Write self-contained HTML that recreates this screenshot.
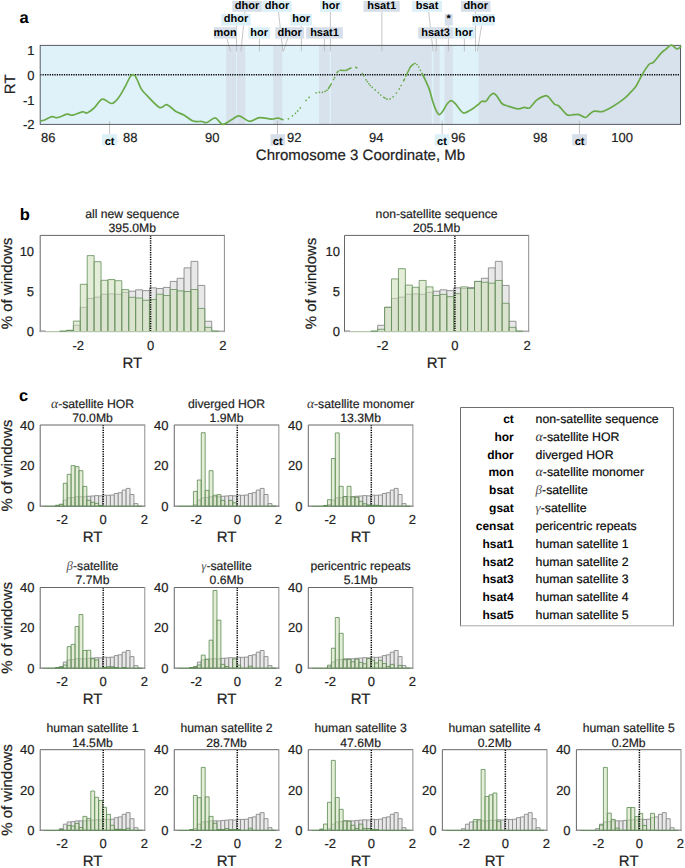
<!DOCTYPE html><html><head><meta charset="utf-8"><style>html,body{margin:0;padding:0;background:#fff;}svg{display:block;text-rendering:geometricPrecision;} text{stroke:#222;stroke-width:0.2px;} text[font-weight=bold]{stroke:none;}</style></head><body>
<svg width="685" height="868" viewBox="0 0 685 868" style="font-family:&quot;Liberation Sans&quot;,sans-serif">
<rect width="685" height="868" fill="#fff"/>
<rect x="40.2" y="45.4" width="640.3" height="79.0" fill="#dff2fa"/>
<rect x="226.1" y="45.4" width="9.90" height="79.0" fill="#d8e2ec"/>
<rect x="236.9" y="45.4" width="8.30" height="79.0" fill="#d8e2ec"/>
<rect x="273.2" y="45.4" width="9.00" height="79.0" fill="#d8e2ec"/>
<rect x="319.0" y="45.4" width="10.60" height="79.0" fill="#d8e2ec"/>
<rect x="331.0" y="45.4" width="100.80" height="79.0" fill="#d8e2ec"/>
<rect x="433.5" y="45.4" width="6.20" height="79.0" fill="#d8e2ec"/>
<rect x="444.5" y="45.4" width="8.30" height="79.0" fill="#d8e2ec"/>
<rect x="478.7" y="45.4" width="201.80" height="79.0" fill="#d8e2ec"/>
<line x1="226.9" y1="38.6" x2="230.6" y2="51.4" stroke="#b8b8b8" stroke-width="0.8"/>
<line x1="236.5" y1="25.6" x2="236.5" y2="51.4" stroke="#b8b8b8" stroke-width="0.8"/>
<line x1="244.9" y1="11.8" x2="240.9" y2="51.4" stroke="#b8b8b8" stroke-width="0.8"/>
<line x1="259.4" y1="38.6" x2="259.4" y2="51.4" stroke="#b8b8b8" stroke-width="0.8"/>
<line x1="278.5" y1="11.8" x2="282.9" y2="51.4" stroke="#b8b8b8" stroke-width="0.8"/>
<line x1="287.7" y1="38.6" x2="283.3" y2="51.4" stroke="#b8b8b8" stroke-width="0.8"/>
<line x1="301.4" y1="25.6" x2="301.4" y2="51.4" stroke="#b8b8b8" stroke-width="0.8"/>
<line x1="324.4" y1="38.6" x2="324.4" y2="51.4" stroke="#b8b8b8" stroke-width="0.8"/>
<line x1="330.4" y1="11.8" x2="330.4" y2="51.4" stroke="#b8b8b8" stroke-width="0.8"/>
<line x1="381.9" y1="11.8" x2="381.9" y2="51.4" stroke="#b8b8b8" stroke-width="0.8"/>
<line x1="428.7" y1="11.8" x2="433.1" y2="51.4" stroke="#b8b8b8" stroke-width="0.8"/>
<line x1="436.3" y1="38.6" x2="436.3" y2="51.4" stroke="#b8b8b8" stroke-width="0.8"/>
<line x1="448.4" y1="25.6" x2="448.4" y2="51.4" stroke="#b8b8b8" stroke-width="0.8"/>
<line x1="464.4" y1="38.6" x2="464.4" y2="51.4" stroke="#b8b8b8" stroke-width="0.8"/>
<line x1="475.5" y1="11.8" x2="475.5" y2="51.4" stroke="#b8b8b8" stroke-width="0.8"/>
<line x1="481.6" y1="25.6" x2="477.4" y2="51.4" stroke="#b8b8b8" stroke-width="0.8"/>
<line x1="109.6" y1="121.0" x2="109.6" y2="134.2" stroke="#b8b8b8" stroke-width="0.8"/>
<line x1="277.5" y1="120.6" x2="277.5" y2="134.2" stroke="#b8b8b8" stroke-width="0.8"/>
<line x1="442.1" y1="120.6" x2="442.1" y2="134.2" stroke="#b8b8b8" stroke-width="0.8"/>
<line x1="579.4" y1="120.6" x2="579.4" y2="134.2" stroke="#b8b8b8" stroke-width="0.8"/>
<line x1="40.2" y1="74.7" x2="680.5" y2="74.7" stroke="#000" stroke-width="1.5" stroke-dasharray="1.25 1.12"/>
<rect x="40.2" y="45.4" width="640.30" height="79.00" fill="none" stroke="#575c63" stroke-width="1"/>
<path d="M40.20,121.00 C40.93,120.83 42.65,120.73 44.60,120.00 C46.55,119.27 49.83,116.98 51.90,116.60 C53.97,116.22 54.45,118.10 57.00,117.70 C59.55,117.30 64.65,114.62 67.20,114.20 C69.75,113.78 69.73,115.60 72.30,115.20 C74.87,114.80 80.17,112.17 82.60,111.80 C85.03,111.43 84.97,113.65 86.90,113.00 C88.83,112.35 91.63,110.22 94.20,107.90 C96.77,105.58 99.37,99.83 102.30,99.10 C105.23,98.37 109.02,103.85 111.80,103.50 C114.58,103.15 116.67,100.03 119.00,97.00 C121.33,93.97 124.03,88.53 125.80,85.30 C127.57,82.07 128.63,79.30 129.60,77.60 C130.57,75.90 130.97,75.58 131.60,75.10 C132.23,74.62 132.80,74.55 133.40,74.70 C134.00,74.85 134.52,75.03 135.20,76.00 C135.88,76.97 136.50,78.35 137.50,80.50 C138.50,82.65 139.87,86.65 141.20,88.90 C142.53,91.15 142.47,90.92 145.50,94.00 C148.53,97.08 155.87,105.62 159.40,107.40 C162.93,109.18 164.02,104.07 166.70,104.70 C169.38,105.33 172.58,109.45 175.50,111.20 C178.42,112.95 181.28,113.57 184.20,115.20 C187.12,116.83 190.07,119.95 193.00,121.00 C195.93,122.05 199.48,121.25 201.80,121.50 C204.12,121.75 204.72,123.12 206.90,122.50 C209.08,121.88 212.72,117.80 214.90,117.80 C217.08,117.80 218.50,121.43 220.00,122.50 C221.50,123.57 221.92,124.68 223.90,124.20 C225.88,123.72 229.35,120.98 231.90,119.60 C234.45,118.22 236.28,115.62 239.20,115.90 C242.12,116.18 246.00,121.00 249.40,121.30 C252.80,121.60 255.95,118.07 259.60,117.70 C263.25,117.33 268.25,119.03 271.30,119.10 C274.35,119.17 275.87,117.97 277.90,118.10 C279.93,118.23 282.57,119.60 283.50,119.90" fill="none" stroke="#6aaa48" stroke-width="1.7" stroke-linejoin="round"/>
<path d="M421.70,72.90 C422.25,73.98 423.72,76.62 425.00,79.40 C426.28,82.18 428.18,86.18 429.40,89.60 C430.62,93.02 431.32,96.73 432.30,99.90 C433.28,103.07 434.20,106.17 435.30,108.60 C436.40,111.03 437.68,114.02 438.90,114.50 C440.12,114.98 441.27,113.22 442.60,111.50 C443.93,109.78 445.45,106.02 446.90,104.20 C448.35,102.38 449.83,100.60 451.30,100.60 C452.77,100.60 454.00,102.38 455.70,104.20 C457.40,106.02 460.03,110.03 461.50,111.50 C462.97,112.97 462.78,113.37 464.50,113.00 C466.22,112.63 469.62,110.63 471.80,109.30 C473.98,107.97 475.90,106.33 477.60,105.00 C479.30,103.67 480.63,101.92 482.00,101.30 C483.37,100.68 484.43,102.27 485.80,101.30 C487.17,100.33 488.85,96.83 490.20,95.50 C491.55,94.17 492.68,93.07 493.90,93.30 C495.12,93.53 496.17,95.20 497.50,96.90 C498.83,98.60 500.20,101.98 501.90,103.50 C503.60,105.02 505.02,105.10 507.70,106.00 C510.38,106.90 515.20,108.67 518.00,108.90 C520.80,109.13 522.57,107.57 524.50,107.40 C526.43,107.23 527.53,109.15 529.60,107.90 C531.67,106.65 534.33,101.92 536.90,99.90 C539.47,97.88 543.05,96.25 545.00,95.80 C546.95,95.35 547.02,95.80 548.60,97.20 C550.18,98.60 552.80,102.73 554.50,104.20 C556.20,105.67 556.73,104.25 558.80,106.00 C560.87,107.75 564.47,113.25 566.90,114.70 C569.33,116.15 571.38,114.72 573.40,114.70 C575.42,114.68 577.00,114.13 579.00,114.60 C581.00,115.07 583.65,117.55 585.40,117.50 C587.15,117.45 588.02,115.37 589.50,114.30 C590.98,113.23 592.17,111.55 594.30,111.10 C596.43,110.65 599.37,112.27 602.30,111.60 C605.23,110.93 608.42,109.13 611.90,107.10 C615.38,105.07 620.25,101.68 623.20,99.40 C626.15,97.12 627.47,95.60 629.60,93.40 C631.73,91.20 633.87,89.40 636.00,86.20 C638.13,83.00 640.25,77.82 642.40,74.20 C644.55,70.58 647.02,66.52 648.90,64.50 C650.78,62.48 651.70,63.97 653.70,62.10 C655.70,60.23 658.90,55.43 660.90,53.30 C662.90,51.17 663.95,50.65 665.70,49.30 C667.45,47.95 669.52,45.25 671.40,45.20 C673.28,45.15 675.35,48.83 677.00,49.00 C678.65,49.17 680.58,46.67 681.30,46.20" fill="none" stroke="#6aaa48" stroke-width="1.7" stroke-linejoin="round"/>
<circle cx="288.4" cy="118.8" r="0.85" fill="#6aaa48"/>
<circle cx="292.5" cy="115.8" r="0.85" fill="#6aaa48"/>
<circle cx="295.5" cy="113.3" r="0.85" fill="#6aaa48"/>
<circle cx="297.7" cy="110.9" r="0.85" fill="#6aaa48"/>
<circle cx="300.3" cy="107.9" r="0.85" fill="#6aaa48"/>
<circle cx="306" cy="100.4" r="0.85" fill="#6aaa48"/>
<circle cx="309.1" cy="97.4" r="0.85" fill="#6aaa48"/>
<circle cx="316.1" cy="92.8" r="0.85" fill="#6aaa48"/>
<circle cx="319.4" cy="92.3" r="0.85" fill="#6aaa48"/>
<circle cx="322.4" cy="92.3" r="0.85" fill="#6aaa48"/>
<circle cx="325" cy="91.4" r="0.85" fill="#6aaa48"/>
<circle cx="326.9" cy="90.3" r="0.85" fill="#6aaa48"/>
<circle cx="333.5" cy="79.5" r="0.85" fill="#6aaa48"/>
<circle cx="334.6" cy="77.6" r="0.85" fill="#6aaa48"/>
<circle cx="337.1" cy="72.4" r="0.85" fill="#6aaa48"/>
<circle cx="338.2" cy="71.4" r="0.85" fill="#6aaa48"/>
<circle cx="355.7" cy="67.3" r="0.85" fill="#6aaa48"/>
<circle cx="356.8" cy="67.8" r="0.85" fill="#6aaa48"/>
<circle cx="362.3" cy="73.6" r="0.85" fill="#6aaa48"/>
<circle cx="363.8" cy="75.8" r="0.85" fill="#6aaa48"/>
<circle cx="366" cy="79.8" r="0.85" fill="#6aaa48"/>
<circle cx="367.4" cy="81.6" r="0.85" fill="#6aaa48"/>
<circle cx="368.9" cy="83.8" r="0.85" fill="#6aaa48"/>
<circle cx="370.3" cy="85.5" r="0.85" fill="#6aaa48"/>
<circle cx="372.2" cy="87.3" r="0.85" fill="#6aaa48"/>
<circle cx="375.2" cy="89.9" r="0.85" fill="#6aaa48"/>
<circle cx="378.3" cy="92.6" r="0.85" fill="#6aaa48"/>
<circle cx="380.7" cy="95" r="0.85" fill="#6aaa48"/>
<circle cx="387" cy="99.2" r="0.85" fill="#6aaa48"/>
<circle cx="390" cy="98.9" r="0.85" fill="#6aaa48"/>
<circle cx="393.1" cy="96.8" r="0.85" fill="#6aaa48"/>
<circle cx="396.4" cy="93.1" r="0.85" fill="#6aaa48"/>
<circle cx="399.3" cy="88.9" r="0.85" fill="#6aaa48"/>
<circle cx="401.1" cy="85.5" r="0.85" fill="#6aaa48"/>
<circle cx="417" cy="64.5" r="0.85" fill="#6aaa48"/>
<circle cx="418.8" cy="67" r="0.85" fill="#6aaa48"/>
<circle cx="420.4" cy="70.3" r="0.85" fill="#6aaa48"/>
<path d="M328.40,88.60 C328.63,88.23 329.32,87.20 329.80,86.40 C330.28,85.60 331.05,84.23 331.30,83.80" fill="none" stroke="#6aaa48" stroke-width="1.5" stroke-linecap="round"/>
<path d="M340.00,70.30 C340.50,70.32 341.90,70.40 343.00,70.40 C344.10,70.40 345.70,70.50 346.60,70.30 C347.50,70.10 347.67,69.58 348.40,69.20 C349.13,68.82 350.57,68.20 351.00,68.00" fill="none" stroke="#6aaa48" stroke-width="1.5" stroke-linecap="round"/>
<path d="M383.60,97.30 C383.87,97.43 384.93,97.97 385.20,98.10" fill="none" stroke="#6aaa48" stroke-width="1.5" stroke-linecap="round"/>
<path d="M403.50,80.90 C403.68,80.60 404.42,79.40 404.60,79.10" fill="none" stroke="#6aaa48" stroke-width="1.5" stroke-linecap="round"/>
<path d="M405.70,76.20 C406.00,75.62 406.90,73.87 407.50,72.70 C408.10,71.53 408.82,70.15 409.30,69.20 C409.78,68.25 409.87,67.73 410.40,67.00 C410.93,66.27 411.72,65.40 412.50,64.80 C413.28,64.20 414.67,63.63 415.10,63.40" fill="none" stroke="#6aaa48" stroke-width="1.5" stroke-linecap="round"/>
<rect x="232.3" y="0.9" width="29.60" height="10.90" fill="#d6dfe9"/>
<text x="247.10" y="9.20" font-size="11" text-anchor="middle" font-weight="bold" fill="#000" >dhor</text>
<rect x="262.3" y="0.9" width="29.40" height="10.90" fill="#dcf0f9"/>
<text x="277.00" y="9.20" font-size="11" text-anchor="middle" font-weight="bold" fill="#000" >dhor</text>
<rect x="320.0" y="0.9" width="21.80" height="10.90" fill="#dcf0f9"/>
<text x="330.90" y="9.20" font-size="11" text-anchor="middle" font-weight="bold" fill="#000" >hor</text>
<rect x="363.5" y="0.9" width="36.30" height="10.90" fill="#d6dfe9"/>
<text x="381.65" y="9.20" font-size="11" text-anchor="middle" font-weight="bold" fill="#000" >hsat1</text>
<rect x="412.1" y="0.9" width="29.80" height="10.90" fill="#dcf0f9"/>
<text x="427.00" y="9.20" font-size="11" text-anchor="middle" font-weight="bold" fill="#000" >bsat</text>
<rect x="461.0" y="0.9" width="29.50" height="10.90" fill="#d6dfe9"/>
<text x="475.75" y="9.20" font-size="11" text-anchor="middle" font-weight="bold" fill="#000" >dhor</text>
<rect x="221.2" y="14.0" width="29.50" height="11.60" fill="#dcf0f9"/>
<text x="235.95" y="22.40" font-size="11" text-anchor="middle" font-weight="bold" fill="#000" >dhor</text>
<rect x="290.4" y="14.0" width="21.60" height="11.60" fill="#dcf0f9"/>
<text x="301.20" y="22.40" font-size="11" text-anchor="middle" font-weight="bold" fill="#000" >hor</text>
<rect x="444.7" y="14.0" width="8.10" height="11.60" fill="#d6dfe9"/>
<text x="448.75" y="22.40" font-size="11" text-anchor="middle" font-weight="bold" fill="#000" >*</text>
<rect x="472.2" y="14.0" width="22.70" height="11.60" fill="#dcf0f9"/>
<text x="483.55" y="22.40" font-size="11" text-anchor="middle" font-weight="bold" fill="#000" >mon</text>
<rect x="213.9" y="27.2" width="22.60" height="11.40" fill="#d6dfe9"/>
<text x="225.20" y="35.60" font-size="11" text-anchor="middle" font-weight="bold" fill="#000" >mon</text>
<rect x="248.3" y="27.2" width="21.70" height="11.40" fill="#dcf0f9"/>
<text x="259.15" y="35.60" font-size="11" text-anchor="middle" font-weight="bold" fill="#000" >hor</text>
<rect x="275.2" y="27.2" width="28.90" height="11.40" fill="#d6dfe9"/>
<text x="289.65" y="35.60" font-size="11" text-anchor="middle" font-weight="bold" fill="#000" >dhor</text>
<rect x="306.2" y="27.2" width="36.60" height="11.40" fill="#d6dfe9"/>
<text x="324.50" y="35.60" font-size="11" text-anchor="middle" font-weight="bold" fill="#000" >hsat1</text>
<rect x="418.2" y="27.2" width="34.80" height="11.40" fill="#d6dfe9"/>
<text x="435.60" y="35.60" font-size="11" text-anchor="middle" font-weight="bold" fill="#000" >hsat3</text>
<rect x="453.1" y="27.2" width="21.70" height="11.40" fill="#dcf0f9"/>
<text x="463.95" y="35.60" font-size="11" text-anchor="middle" font-weight="bold" fill="#000" >hor</text>
<rect x="101.9" y="134.2" width="15.40" height="11.4" fill="#dcf0f9"/>
<text x="109.60" y="144.90" font-size="11" text-anchor="middle" font-weight="bold" fill="#000" >ct</text>
<rect x="270.5" y="134.2" width="14.50" height="11.4" fill="#d6dfe9"/>
<text x="277.75" y="144.90" font-size="11" text-anchor="middle" font-weight="bold" fill="#000" >ct</text>
<rect x="434.7" y="134.2" width="14.60" height="11.4" fill="#dcf0f9"/>
<text x="442.00" y="144.90" font-size="11" text-anchor="middle" font-weight="bold" fill="#000" >ct</text>
<rect x="572.1" y="134.2" width="14.90" height="11.4" fill="#d6dfe9"/>
<text x="579.55" y="144.90" font-size="11" text-anchor="middle" font-weight="bold" fill="#000" >ct</text>
<text x="34.60" y="54.70" font-size="13" text-anchor="end" fill="#222" >1</text>
<text x="34.60" y="79.90" font-size="13" text-anchor="end" fill="#222" >0</text>
<text x="34.60" y="105.00" font-size="13" text-anchor="end" fill="#222" >-1</text>
<text x="34.60" y="129.30" font-size="13" text-anchor="end" fill="#222" >-2</text>
<text x="48.20" y="142.30" font-size="13" text-anchor="middle" fill="#222" >86</text>
<text x="130.20" y="142.30" font-size="13" text-anchor="middle" fill="#222" >88</text>
<text x="212.20" y="142.30" font-size="13" text-anchor="middle" fill="#222" >90</text>
<text x="294.20" y="142.30" font-size="13" text-anchor="middle" fill="#222" >92</text>
<text x="376.20" y="142.30" font-size="13" text-anchor="middle" fill="#222" >94</text>
<text x="458.20" y="142.30" font-size="13" text-anchor="middle" fill="#222" >96</text>
<text x="540.20" y="142.30" font-size="13" text-anchor="middle" fill="#222" >98</text>
<text x="622.20" y="142.30" font-size="13" text-anchor="middle" fill="#222" >100</text>
<text x="360.50" y="159.60" font-size="15" text-anchor="middle" fill="#222" >Chromosome 3 Coordinate, Mb</text>
<text x="0" y="0" font-size="15" text-anchor="middle" fill="#222" transform="translate(15.2,84.3) rotate(-90)">RT</text>
<text x="19.60" y="23.00" font-size="16.5" text-anchor="start" font-weight="bold" fill="#000" >a</text>
<g>
<rect x="40.20" y="330.96" width="5.54" height="0.64" fill="#e8e8e8" fill-opacity="1"/>
<path d="M40.20,331.60V330.96H45.74V331.60" fill="none" stroke="#8a8a8a" stroke-width="0.9"/>
<rect x="73.40" y="325.27" width="6.92" height="6.33" fill="#e8e8e8" fill-opacity="1"/>
<path d="M73.40,331.60V325.27H80.32V331.60" fill="none" stroke="#8a8a8a" stroke-width="0.9"/>
<rect x="80.32" y="307.31" width="6.92" height="24.29" fill="#e8e8e8" fill-opacity="1"/>
<path d="M80.32,331.60V307.31H87.23V331.60" fill="none" stroke="#8a8a8a" stroke-width="0.9"/>
<rect x="87.23" y="298.41" width="6.92" height="33.19" fill="#e8e8e8" fill-opacity="1"/>
<path d="M87.23,331.60V298.41H94.15V331.60" fill="none" stroke="#8a8a8a" stroke-width="0.9"/>
<rect x="94.15" y="297.13" width="6.92" height="34.47" fill="#e8e8e8" fill-opacity="1"/>
<path d="M94.15,331.60V297.13H101.06V331.60" fill="none" stroke="#8a8a8a" stroke-width="0.9"/>
<rect x="101.06" y="294.24" width="6.92" height="37.36" fill="#e8e8e8" fill-opacity="1"/>
<path d="M101.06,331.60V294.24H107.98V331.60" fill="none" stroke="#8a8a8a" stroke-width="0.9"/>
<rect x="107.98" y="293.92" width="6.92" height="37.68" fill="#e8e8e8" fill-opacity="1"/>
<path d="M107.98,331.60V293.92H114.89V331.60" fill="none" stroke="#8a8a8a" stroke-width="0.9"/>
<rect x="114.89" y="294.24" width="6.92" height="37.36" fill="#e8e8e8" fill-opacity="1"/>
<path d="M114.89,331.60V294.24H121.81V331.60" fill="none" stroke="#8a8a8a" stroke-width="0.9"/>
<rect x="121.81" y="292.32" width="6.92" height="39.28" fill="#e8e8e8" fill-opacity="1"/>
<path d="M121.81,331.60V292.32H128.73V331.60" fill="none" stroke="#8a8a8a" stroke-width="0.9"/>
<rect x="128.73" y="291.20" width="6.92" height="40.40" fill="#e8e8e8" fill-opacity="1"/>
<path d="M128.73,331.60V291.20H135.64V331.60" fill="none" stroke="#8a8a8a" stroke-width="0.9"/>
<rect x="135.64" y="289.83" width="6.92" height="41.77" fill="#e8e8e8" fill-opacity="1"/>
<path d="M135.64,331.60V289.83H142.56V331.60" fill="none" stroke="#8a8a8a" stroke-width="0.9"/>
<rect x="142.56" y="290.63" width="6.92" height="40.97" fill="#e8e8e8" fill-opacity="1"/>
<path d="M142.56,331.60V290.63H149.47V331.60" fill="none" stroke="#8a8a8a" stroke-width="0.9"/>
<rect x="149.47" y="287.83" width="6.92" height="43.77" fill="#e8e8e8" fill-opacity="1"/>
<path d="M149.47,331.60V287.83H156.39V331.60" fill="none" stroke="#8a8a8a" stroke-width="0.9"/>
<rect x="156.39" y="288.47" width="6.92" height="43.13" fill="#e8e8e8" fill-opacity="1"/>
<path d="M156.39,331.60V288.47H163.30V331.60" fill="none" stroke="#8a8a8a" stroke-width="0.9"/>
<rect x="163.30" y="287.43" width="6.92" height="44.17" fill="#e8e8e8" fill-opacity="1"/>
<path d="M163.30,331.60V287.43H170.22V331.60" fill="none" stroke="#8a8a8a" stroke-width="0.9"/>
<rect x="170.22" y="281.42" width="6.92" height="50.18" fill="#e8e8e8" fill-opacity="1"/>
<path d="M170.22,331.60V281.42H177.13V331.60" fill="none" stroke="#8a8a8a" stroke-width="0.9"/>
<rect x="177.13" y="278.29" width="6.92" height="53.31" fill="#e8e8e8" fill-opacity="1"/>
<path d="M177.13,331.60V278.29H184.05V331.60" fill="none" stroke="#8a8a8a" stroke-width="0.9"/>
<rect x="184.05" y="267.87" width="6.92" height="63.73" fill="#e8e8e8" fill-opacity="1"/>
<path d="M184.05,331.60V267.87H190.97V331.60" fill="none" stroke="#8a8a8a" stroke-width="0.9"/>
<rect x="190.97" y="261.37" width="6.92" height="70.23" fill="#e8e8e8" fill-opacity="1"/>
<path d="M190.97,331.60V261.37H197.88V331.60" fill="none" stroke="#8a8a8a" stroke-width="0.9"/>
<rect x="197.88" y="285.42" width="6.92" height="46.18" fill="#e8e8e8" fill-opacity="1"/>
<path d="M197.88,331.60V285.42H204.80V331.60" fill="none" stroke="#8a8a8a" stroke-width="0.9"/>
<rect x="204.80" y="321.26" width="6.92" height="10.34" fill="#e8e8e8" fill-opacity="1"/>
<path d="M204.80,331.60V321.26H211.71V331.60" fill="none" stroke="#8a8a8a" stroke-width="0.9"/>
<rect x="211.71" y="331.36" width="6.92" height="0.24" fill="#e8e8e8" fill-opacity="1"/>
<path d="M211.71,331.60V331.36H218.63V331.60" fill="none" stroke="#8a8a8a" stroke-width="0.9"/>
<rect x="218.63" y="331.12" width="5.77" height="0.48" fill="#e8e8e8" fill-opacity="1"/>
<path d="M218.63,331.60V331.12H224.40V331.60" fill="none" stroke="#8a8a8a" stroke-width="0.9"/>
<rect x="59.57" y="331.20" width="6.92" height="0.40" fill="#cedeb6" fill-opacity="0.55"/>
<path d="M59.57,331.60V331.20H66.49V331.60" fill="none" stroke="#638f5b" stroke-width="0.8"/>
<rect x="66.49" y="330.40" width="6.92" height="1.20" fill="#cedeb6" fill-opacity="0.55"/>
<path d="M66.49,331.60V330.40H73.40V331.60" fill="none" stroke="#638f5b" stroke-width="0.8"/>
<rect x="73.40" y="321.10" width="6.92" height="10.50" fill="#cedeb6" fill-opacity="0.55"/>
<path d="M73.40,331.60V321.10H80.32V331.60" fill="none" stroke="#638f5b" stroke-width="0.8"/>
<rect x="80.32" y="284.30" width="6.92" height="47.30" fill="#cedeb6" fill-opacity="0.55"/>
<path d="M80.32,331.60V284.30H87.23V331.60" fill="none" stroke="#638f5b" stroke-width="0.8"/>
<rect x="87.23" y="255.60" width="6.92" height="76.00" fill="#cedeb6" fill-opacity="0.55"/>
<path d="M87.23,331.60V255.60H94.15V331.60" fill="none" stroke="#638f5b" stroke-width="0.8"/>
<rect x="94.15" y="261.69" width="6.92" height="69.91" fill="#cedeb6" fill-opacity="0.55"/>
<path d="M94.15,331.60V261.69H101.06V331.60" fill="none" stroke="#638f5b" stroke-width="0.8"/>
<rect x="101.06" y="280.29" width="6.92" height="51.31" fill="#cedeb6" fill-opacity="0.55"/>
<path d="M101.06,331.60V280.29H107.98V331.60" fill="none" stroke="#638f5b" stroke-width="0.8"/>
<rect x="107.98" y="279.57" width="6.92" height="52.03" fill="#cedeb6" fill-opacity="0.55"/>
<path d="M107.98,331.60V279.57H114.89V331.60" fill="none" stroke="#638f5b" stroke-width="0.8"/>
<rect x="114.89" y="280.69" width="6.92" height="50.91" fill="#cedeb6" fill-opacity="0.55"/>
<path d="M114.89,331.60V280.69H121.81V331.60" fill="none" stroke="#638f5b" stroke-width="0.8"/>
<rect x="121.81" y="289.59" width="6.92" height="42.01" fill="#cedeb6" fill-opacity="0.55"/>
<path d="M121.81,331.60V289.59H128.73V331.60" fill="none" stroke="#638f5b" stroke-width="0.8"/>
<rect x="128.73" y="297.29" width="6.92" height="34.31" fill="#cedeb6" fill-opacity="0.55"/>
<path d="M128.73,331.60V297.29H135.64V331.60" fill="none" stroke="#638f5b" stroke-width="0.8"/>
<rect x="135.64" y="298.01" width="6.92" height="33.59" fill="#cedeb6" fill-opacity="0.55"/>
<path d="M135.64,331.60V298.01H142.56V331.60" fill="none" stroke="#638f5b" stroke-width="0.8"/>
<rect x="142.56" y="300.25" width="6.92" height="31.35" fill="#cedeb6" fill-opacity="0.55"/>
<path d="M142.56,331.60V300.25H149.47V331.60" fill="none" stroke="#638f5b" stroke-width="0.8"/>
<rect x="149.47" y="299.53" width="6.92" height="32.07" fill="#cedeb6" fill-opacity="0.55"/>
<path d="M149.47,331.60V299.53H156.39V331.60" fill="none" stroke="#638f5b" stroke-width="0.8"/>
<rect x="156.39" y="294.24" width="6.92" height="37.36" fill="#cedeb6" fill-opacity="0.55"/>
<path d="M156.39,331.60V294.24H163.30V331.60" fill="none" stroke="#638f5b" stroke-width="0.8"/>
<rect x="163.30" y="295.53" width="6.92" height="36.08" fill="#cedeb6" fill-opacity="0.55"/>
<path d="M163.30,331.60V295.53H170.22V331.60" fill="none" stroke="#638f5b" stroke-width="0.8"/>
<rect x="170.22" y="289.51" width="6.92" height="42.09" fill="#cedeb6" fill-opacity="0.55"/>
<path d="M170.22,331.60V289.51H177.13V331.60" fill="none" stroke="#638f5b" stroke-width="0.8"/>
<rect x="177.13" y="290.88" width="6.92" height="40.72" fill="#cedeb6" fill-opacity="0.55"/>
<path d="M177.13,331.60V290.88H184.05V331.60" fill="none" stroke="#638f5b" stroke-width="0.8"/>
<rect x="184.05" y="291.52" width="6.92" height="40.08" fill="#cedeb6" fill-opacity="0.55"/>
<path d="M184.05,331.60V291.52H190.97V331.60" fill="none" stroke="#638f5b" stroke-width="0.8"/>
<rect x="190.97" y="289.51" width="6.92" height="42.09" fill="#cedeb6" fill-opacity="0.55"/>
<path d="M190.97,331.60V289.51H197.88V331.60" fill="none" stroke="#638f5b" stroke-width="0.8"/>
<rect x="197.88" y="308.43" width="6.92" height="23.17" fill="#cedeb6" fill-opacity="0.55"/>
<path d="M197.88,331.60V308.43H204.80V331.60" fill="none" stroke="#638f5b" stroke-width="0.8"/>
<rect x="204.80" y="327.35" width="6.92" height="4.25" fill="#cedeb6" fill-opacity="0.55"/>
<path d="M204.80,331.60V327.35H211.71V331.60" fill="none" stroke="#638f5b" stroke-width="0.8"/>
<rect x="211.71" y="331.20" width="6.92" height="0.40" fill="#cedeb6" fill-opacity="0.55"/>
<path d="M211.71,331.60V331.20H218.63V331.60" fill="none" stroke="#638f5b" stroke-width="0.8"/>
<line x1="150.60" y1="235.4" x2="150.60" y2="331.6" stroke="#000" stroke-width="1.5" stroke-dasharray="1.25 1.12"/>
<path d="M40.2,332.1V235.4H224.39999999999998" fill="none" stroke="#666" stroke-width="1"/>
<line x1="224.39999999999998" y1="234.9" x2="224.39999999999998" y2="332.1" stroke="#8c8c8c" stroke-width="1"/>
<line x1="39.7" y1="331.6" x2="224.89999999999998" y2="331.6" stroke="#acacac" stroke-width="1"/>
<line x1="45.74" y1="331.6" x2="218.63" y2="331.6" stroke="#b3cba9" stroke-width="1"/>
<line x1="59.57" y1="331.20" x2="66.49" y2="331.20" stroke="#638f5b" stroke-width="0.9"/>
<line x1="66.49" y1="330.40" x2="73.40" y2="330.40" stroke="#638f5b" stroke-width="0.9"/>
<line x1="211.71" y1="331.20" x2="218.63" y2="331.20" stroke="#638f5b" stroke-width="0.9"/>
</g>
<text x="132.30" y="218.00" font-size="12.2" text-anchor="middle" fill="#222" >all new sequence</text>
<text x="132.30" y="231.90" font-size="12.2" text-anchor="middle" fill="#222" >395.0Mb</text>
<text x="34.10" y="336.20" font-size="13" text-anchor="end" fill="#222" >0</text>
<text x="34.10" y="296.12" font-size="13" text-anchor="end" fill="#222" >5</text>
<text x="34.10" y="256.03" font-size="13" text-anchor="end" fill="#222" >10</text>
<text x="78.30" y="350.10" font-size="13" text-anchor="middle" fill="#222" >-2</text>
<text x="150.60" y="350.10" font-size="13" text-anchor="middle" fill="#222" >0</text>
<text x="222.90" y="350.10" font-size="13" text-anchor="middle" fill="#222" >2</text>
<text x="132.30" y="368.00" font-size="15" text-anchor="middle" fill="#222" >RT</text>
<text x="0" y="0" font-size="15" text-anchor="middle" fill="#222" transform="translate(11.70,283.50) rotate(-90)">% of windows</text>
<g>
<rect x="344.50" y="330.96" width="5.54" height="0.64" fill="#e8e8e8" fill-opacity="1"/>
<path d="M344.50,331.60V330.96H350.04V331.60" fill="none" stroke="#8a8a8a" stroke-width="0.9"/>
<rect x="377.70" y="325.27" width="6.92" height="6.33" fill="#e8e8e8" fill-opacity="1"/>
<path d="M377.70,331.60V325.27H384.62V331.60" fill="none" stroke="#8a8a8a" stroke-width="0.9"/>
<rect x="384.62" y="307.31" width="6.92" height="24.29" fill="#e8e8e8" fill-opacity="1"/>
<path d="M384.62,331.60V307.31H391.53V331.60" fill="none" stroke="#8a8a8a" stroke-width="0.9"/>
<rect x="391.53" y="298.41" width="6.92" height="33.19" fill="#e8e8e8" fill-opacity="1"/>
<path d="M391.53,331.60V298.41H398.45V331.60" fill="none" stroke="#8a8a8a" stroke-width="0.9"/>
<rect x="398.45" y="297.13" width="6.92" height="34.47" fill="#e8e8e8" fill-opacity="1"/>
<path d="M398.45,331.60V297.13H405.36V331.60" fill="none" stroke="#8a8a8a" stroke-width="0.9"/>
<rect x="405.36" y="294.24" width="6.92" height="37.36" fill="#e8e8e8" fill-opacity="1"/>
<path d="M405.36,331.60V294.24H412.28V331.60" fill="none" stroke="#8a8a8a" stroke-width="0.9"/>
<rect x="412.28" y="293.92" width="6.92" height="37.68" fill="#e8e8e8" fill-opacity="1"/>
<path d="M412.28,331.60V293.92H419.19V331.60" fill="none" stroke="#8a8a8a" stroke-width="0.9"/>
<rect x="419.19" y="294.24" width="6.92" height="37.36" fill="#e8e8e8" fill-opacity="1"/>
<path d="M419.19,331.60V294.24H426.11V331.60" fill="none" stroke="#8a8a8a" stroke-width="0.9"/>
<rect x="426.11" y="292.32" width="6.92" height="39.28" fill="#e8e8e8" fill-opacity="1"/>
<path d="M426.11,331.60V292.32H433.03V331.60" fill="none" stroke="#8a8a8a" stroke-width="0.9"/>
<rect x="433.03" y="291.20" width="6.92" height="40.40" fill="#e8e8e8" fill-opacity="1"/>
<path d="M433.03,331.60V291.20H439.94V331.60" fill="none" stroke="#8a8a8a" stroke-width="0.9"/>
<rect x="439.94" y="289.83" width="6.92" height="41.77" fill="#e8e8e8" fill-opacity="1"/>
<path d="M439.94,331.60V289.83H446.86V331.60" fill="none" stroke="#8a8a8a" stroke-width="0.9"/>
<rect x="446.86" y="290.63" width="6.92" height="40.97" fill="#e8e8e8" fill-opacity="1"/>
<path d="M446.86,331.60V290.63H453.77V331.60" fill="none" stroke="#8a8a8a" stroke-width="0.9"/>
<rect x="453.77" y="287.83" width="6.92" height="43.77" fill="#e8e8e8" fill-opacity="1"/>
<path d="M453.77,331.60V287.83H460.69V331.60" fill="none" stroke="#8a8a8a" stroke-width="0.9"/>
<rect x="460.69" y="288.47" width="6.92" height="43.13" fill="#e8e8e8" fill-opacity="1"/>
<path d="M460.69,331.60V288.47H467.60V331.60" fill="none" stroke="#8a8a8a" stroke-width="0.9"/>
<rect x="467.60" y="287.43" width="6.92" height="44.17" fill="#e8e8e8" fill-opacity="1"/>
<path d="M467.60,331.60V287.43H474.52V331.60" fill="none" stroke="#8a8a8a" stroke-width="0.9"/>
<rect x="474.52" y="281.42" width="6.92" height="50.18" fill="#e8e8e8" fill-opacity="1"/>
<path d="M474.52,331.60V281.42H481.43V331.60" fill="none" stroke="#8a8a8a" stroke-width="0.9"/>
<rect x="481.43" y="278.29" width="6.92" height="53.31" fill="#e8e8e8" fill-opacity="1"/>
<path d="M481.43,331.60V278.29H488.35V331.60" fill="none" stroke="#8a8a8a" stroke-width="0.9"/>
<rect x="488.35" y="267.87" width="6.92" height="63.73" fill="#e8e8e8" fill-opacity="1"/>
<path d="M488.35,331.60V267.87H495.27V331.60" fill="none" stroke="#8a8a8a" stroke-width="0.9"/>
<rect x="495.27" y="261.37" width="6.92" height="70.23" fill="#e8e8e8" fill-opacity="1"/>
<path d="M495.27,331.60V261.37H502.18V331.60" fill="none" stroke="#8a8a8a" stroke-width="0.9"/>
<rect x="502.18" y="285.42" width="6.92" height="46.18" fill="#e8e8e8" fill-opacity="1"/>
<path d="M502.18,331.60V285.42H509.10V331.60" fill="none" stroke="#8a8a8a" stroke-width="0.9"/>
<rect x="509.10" y="321.26" width="6.92" height="10.34" fill="#e8e8e8" fill-opacity="1"/>
<path d="M509.10,331.60V321.26H516.01V331.60" fill="none" stroke="#8a8a8a" stroke-width="0.9"/>
<rect x="516.01" y="331.36" width="6.92" height="0.24" fill="#e8e8e8" fill-opacity="1"/>
<path d="M516.01,331.60V331.36H522.93V331.60" fill="none" stroke="#8a8a8a" stroke-width="0.9"/>
<rect x="522.93" y="331.12" width="5.77" height="0.48" fill="#e8e8e8" fill-opacity="1"/>
<path d="M522.93,331.60V331.12H528.70V331.60" fill="none" stroke="#8a8a8a" stroke-width="0.9"/>
<rect x="370.79" y="331.20" width="6.92" height="0.40" fill="#cedeb6" fill-opacity="0.55"/>
<path d="M370.79,331.60V331.20H377.70V331.60" fill="none" stroke="#638f5b" stroke-width="0.8"/>
<rect x="377.70" y="329.28" width="6.92" height="2.32" fill="#cedeb6" fill-opacity="0.55"/>
<path d="M377.70,331.60V329.28H384.62V331.60" fill="none" stroke="#638f5b" stroke-width="0.8"/>
<rect x="384.62" y="307.31" width="6.92" height="24.29" fill="#cedeb6" fill-opacity="0.55"/>
<path d="M384.62,331.60V307.31H391.53V331.60" fill="none" stroke="#638f5b" stroke-width="0.8"/>
<rect x="391.53" y="278.93" width="6.92" height="52.67" fill="#cedeb6" fill-opacity="0.55"/>
<path d="M391.53,331.60V278.93H398.45V331.60" fill="none" stroke="#638f5b" stroke-width="0.8"/>
<rect x="398.45" y="268.67" width="6.92" height="62.93" fill="#cedeb6" fill-opacity="0.55"/>
<path d="M398.45,331.60V268.67H405.36V331.60" fill="none" stroke="#638f5b" stroke-width="0.8"/>
<rect x="405.36" y="285.10" width="6.92" height="46.50" fill="#cedeb6" fill-opacity="0.55"/>
<path d="M405.36,331.60V285.10H412.28V331.60" fill="none" stroke="#638f5b" stroke-width="0.8"/>
<rect x="412.28" y="287.27" width="6.92" height="44.33" fill="#cedeb6" fill-opacity="0.55"/>
<path d="M412.28,331.60V287.27H419.19V331.60" fill="none" stroke="#638f5b" stroke-width="0.8"/>
<rect x="419.19" y="280.45" width="6.92" height="51.15" fill="#cedeb6" fill-opacity="0.55"/>
<path d="M419.19,331.60V280.45H426.11V331.60" fill="none" stroke="#638f5b" stroke-width="0.8"/>
<rect x="426.11" y="286.87" width="6.92" height="44.73" fill="#cedeb6" fill-opacity="0.55"/>
<path d="M426.11,331.60V286.87H433.03V331.60" fill="none" stroke="#638f5b" stroke-width="0.8"/>
<rect x="433.03" y="295.53" width="6.92" height="36.08" fill="#cedeb6" fill-opacity="0.55"/>
<path d="M433.03,331.60V295.53H439.94V331.60" fill="none" stroke="#638f5b" stroke-width="0.8"/>
<rect x="439.94" y="294.40" width="6.92" height="37.20" fill="#cedeb6" fill-opacity="0.55"/>
<path d="M439.94,331.60V294.40H446.86V331.60" fill="none" stroke="#638f5b" stroke-width="0.8"/>
<rect x="446.86" y="296.65" width="6.92" height="34.95" fill="#cedeb6" fill-opacity="0.55"/>
<path d="M446.86,331.60V296.65H453.77V331.60" fill="none" stroke="#638f5b" stroke-width="0.8"/>
<rect x="453.77" y="293.68" width="6.92" height="37.92" fill="#cedeb6" fill-opacity="0.55"/>
<path d="M453.77,331.60V293.68H460.69V331.60" fill="none" stroke="#638f5b" stroke-width="0.8"/>
<rect x="460.69" y="286.87" width="6.92" height="44.73" fill="#cedeb6" fill-opacity="0.55"/>
<path d="M460.69,331.60V286.87H467.60V331.60" fill="none" stroke="#638f5b" stroke-width="0.8"/>
<rect x="467.60" y="288.47" width="6.92" height="43.13" fill="#cedeb6" fill-opacity="0.55"/>
<path d="M467.60,331.60V288.47H474.52V331.60" fill="none" stroke="#638f5b" stroke-width="0.8"/>
<rect x="474.52" y="281.42" width="6.92" height="50.18" fill="#cedeb6" fill-opacity="0.55"/>
<path d="M474.52,331.60V281.42H481.43V331.60" fill="none" stroke="#638f5b" stroke-width="0.8"/>
<rect x="481.43" y="282.22" width="6.92" height="49.38" fill="#cedeb6" fill-opacity="0.55"/>
<path d="M481.43,331.60V282.22H488.35V331.60" fill="none" stroke="#638f5b" stroke-width="0.8"/>
<rect x="488.35" y="283.18" width="6.92" height="48.42" fill="#cedeb6" fill-opacity="0.55"/>
<path d="M488.35,331.60V283.18H495.27V331.60" fill="none" stroke="#638f5b" stroke-width="0.8"/>
<rect x="495.27" y="280.45" width="6.92" height="51.15" fill="#cedeb6" fill-opacity="0.55"/>
<path d="M495.27,331.60V280.45H502.18V331.60" fill="none" stroke="#638f5b" stroke-width="0.8"/>
<rect x="502.18" y="303.30" width="6.92" height="28.30" fill="#cedeb6" fill-opacity="0.55"/>
<path d="M502.18,331.60V303.30H509.10V331.60" fill="none" stroke="#638f5b" stroke-width="0.8"/>
<rect x="509.10" y="327.35" width="6.92" height="4.25" fill="#cedeb6" fill-opacity="0.55"/>
<path d="M509.10,331.60V327.35H516.01V331.60" fill="none" stroke="#638f5b" stroke-width="0.8"/>
<rect x="516.01" y="331.20" width="6.92" height="0.40" fill="#cedeb6" fill-opacity="0.55"/>
<path d="M516.01,331.60V331.20H522.93V331.60" fill="none" stroke="#638f5b" stroke-width="0.8"/>
<line x1="454.90" y1="235.4" x2="454.90" y2="331.6" stroke="#000" stroke-width="1.5" stroke-dasharray="1.25 1.12"/>
<path d="M344.5,332.1V235.4H528.7" fill="none" stroke="#666" stroke-width="1"/>
<line x1="528.7" y1="234.9" x2="528.7" y2="332.1" stroke="#8c8c8c" stroke-width="1"/>
<line x1="344.0" y1="331.6" x2="529.2" y2="331.6" stroke="#acacac" stroke-width="1"/>
<line x1="350.04" y1="331.6" x2="522.93" y2="331.6" stroke="#b3cba9" stroke-width="1"/>
<line x1="370.79" y1="331.20" x2="377.70" y2="331.20" stroke="#638f5b" stroke-width="0.9"/>
<line x1="516.01" y1="331.20" x2="522.93" y2="331.20" stroke="#638f5b" stroke-width="0.9"/>
</g>
<text x="436.60" y="218.00" font-size="12.2" text-anchor="middle" fill="#222" >non-satellite sequence</text>
<text x="436.60" y="231.90" font-size="12.2" text-anchor="middle" fill="#222" >205.1Mb</text>
<text x="340.00" y="336.20" font-size="13" text-anchor="end" fill="#222" >0</text>
<text x="340.00" y="296.12" font-size="13" text-anchor="end" fill="#222" >5</text>
<text x="340.00" y="256.03" font-size="13" text-anchor="end" fill="#222" >10</text>
<text x="382.60" y="350.10" font-size="13" text-anchor="middle" fill="#222" >-2</text>
<text x="454.90" y="350.10" font-size="13" text-anchor="middle" fill="#222" >0</text>
<text x="527.20" y="350.10" font-size="13" text-anchor="middle" fill="#222" >2</text>
<text x="436.60" y="368.00" font-size="15" text-anchor="middle" fill="#222" >RT</text>
<text x="0" y="0" font-size="15" text-anchor="middle" fill="#222" transform="translate(316.00,283.50) rotate(-90)">% of windows</text>
<text x="19.80" y="220.30" font-size="16.5" text-anchor="start" font-weight="bold" fill="#000" >b</text>
<g>
<rect x="40.20" y="506.04" width="3.45" height="0.16" fill="#e8e8e8" fill-opacity="1"/>
<path d="M40.20,506.20V506.04H43.65V506.20" fill="none" stroke="#8a8a8a" stroke-width="0.9"/>
<rect x="59.36" y="504.60" width="3.93" height="1.60" fill="#e8e8e8" fill-opacity="1"/>
<path d="M59.36,506.20V504.60H63.29V506.20" fill="none" stroke="#8a8a8a" stroke-width="0.9"/>
<rect x="63.29" y="500.05" width="3.93" height="6.15" fill="#e8e8e8" fill-opacity="1"/>
<path d="M63.29,506.20V500.05H67.21V506.20" fill="none" stroke="#8a8a8a" stroke-width="0.9"/>
<rect x="67.21" y="497.80" width="3.93" height="8.40" fill="#e8e8e8" fill-opacity="1"/>
<path d="M67.21,506.20V497.80H71.14V506.20" fill="none" stroke="#8a8a8a" stroke-width="0.9"/>
<rect x="71.14" y="497.47" width="3.93" height="8.73" fill="#e8e8e8" fill-opacity="1"/>
<path d="M71.14,506.20V497.47H75.07V506.20" fill="none" stroke="#8a8a8a" stroke-width="0.9"/>
<rect x="75.07" y="496.74" width="3.93" height="9.46" fill="#e8e8e8" fill-opacity="1"/>
<path d="M75.07,506.20V496.74H79.00V506.20" fill="none" stroke="#8a8a8a" stroke-width="0.9"/>
<rect x="79.00" y="496.66" width="3.93" height="9.54" fill="#e8e8e8" fill-opacity="1"/>
<path d="M79.00,506.20V496.66H82.92V506.20" fill="none" stroke="#8a8a8a" stroke-width="0.9"/>
<rect x="82.92" y="496.74" width="3.93" height="9.46" fill="#e8e8e8" fill-opacity="1"/>
<path d="M82.92,506.20V496.74H86.85V506.20" fill="none" stroke="#8a8a8a" stroke-width="0.9"/>
<rect x="86.85" y="496.25" width="3.93" height="9.95" fill="#e8e8e8" fill-opacity="1"/>
<path d="M86.85,506.20V496.25H90.78V506.20" fill="none" stroke="#8a8a8a" stroke-width="0.9"/>
<rect x="90.78" y="495.97" width="3.93" height="10.23" fill="#e8e8e8" fill-opacity="1"/>
<path d="M90.78,506.20V495.97H94.70V506.20" fill="none" stroke="#8a8a8a" stroke-width="0.9"/>
<rect x="94.70" y="495.62" width="3.93" height="10.58" fill="#e8e8e8" fill-opacity="1"/>
<path d="M94.70,506.20V495.62H98.63V506.20" fill="none" stroke="#8a8a8a" stroke-width="0.9"/>
<rect x="98.63" y="495.83" width="3.93" height="10.37" fill="#e8e8e8" fill-opacity="1"/>
<path d="M98.63,506.20V495.83H102.56V506.20" fill="none" stroke="#8a8a8a" stroke-width="0.9"/>
<rect x="102.56" y="495.12" width="3.93" height="11.08" fill="#e8e8e8" fill-opacity="1"/>
<path d="M102.56,506.20V495.12H106.49V506.20" fill="none" stroke="#8a8a8a" stroke-width="0.9"/>
<rect x="106.49" y="495.28" width="3.93" height="10.92" fill="#e8e8e8" fill-opacity="1"/>
<path d="M106.49,506.20V495.28H110.41V506.20" fill="none" stroke="#8a8a8a" stroke-width="0.9"/>
<rect x="110.41" y="495.01" width="3.93" height="11.19" fill="#e8e8e8" fill-opacity="1"/>
<path d="M110.41,506.20V495.01H114.34V506.20" fill="none" stroke="#8a8a8a" stroke-width="0.9"/>
<rect x="114.34" y="493.49" width="3.93" height="12.71" fill="#e8e8e8" fill-opacity="1"/>
<path d="M114.34,506.20V493.49H118.27V506.20" fill="none" stroke="#8a8a8a" stroke-width="0.9"/>
<rect x="118.27" y="492.70" width="3.93" height="13.50" fill="#e8e8e8" fill-opacity="1"/>
<path d="M118.27,506.20V492.70H122.20V506.20" fill="none" stroke="#8a8a8a" stroke-width="0.9"/>
<rect x="122.20" y="490.06" width="3.93" height="16.14" fill="#e8e8e8" fill-opacity="1"/>
<path d="M122.20,506.20V490.06H126.12V506.20" fill="none" stroke="#8a8a8a" stroke-width="0.9"/>
<rect x="126.12" y="488.42" width="3.93" height="17.78" fill="#e8e8e8" fill-opacity="1"/>
<path d="M126.12,506.20V488.42H130.05V506.20" fill="none" stroke="#8a8a8a" stroke-width="0.9"/>
<rect x="130.05" y="494.51" width="3.93" height="11.69" fill="#e8e8e8" fill-opacity="1"/>
<path d="M130.05,506.20V494.51H133.98V506.20" fill="none" stroke="#8a8a8a" stroke-width="0.9"/>
<rect x="133.98" y="503.58" width="3.93" height="2.62" fill="#e8e8e8" fill-opacity="1"/>
<path d="M133.98,506.20V503.58H137.91V506.20" fill="none" stroke="#8a8a8a" stroke-width="0.9"/>
<rect x="137.91" y="506.14" width="3.93" height="0.06" fill="#e8e8e8" fill-opacity="1"/>
<path d="M137.91,506.20V506.14H141.83V506.20" fill="none" stroke="#8a8a8a" stroke-width="0.9"/>
<rect x="141.83" y="506.08" width="2.97" height="0.12" fill="#e8e8e8" fill-opacity="1"/>
<path d="M141.83,506.20V506.08H144.80V506.20" fill="none" stroke="#8a8a8a" stroke-width="0.9"/>
<rect x="55.43" y="505.39" width="3.93" height="0.81" fill="#cedeb6" fill-opacity="0.55"/>
<path d="M55.43,506.20V505.39H59.36V506.20" fill="none" stroke="#5b8a52" stroke-width="0.8"/>
<rect x="59.36" y="504.17" width="3.93" height="2.03" fill="#cedeb6" fill-opacity="0.55"/>
<path d="M59.36,506.20V504.17H63.29V506.20" fill="none" stroke="#5b8a52" stroke-width="0.8"/>
<rect x="63.29" y="483.26" width="3.93" height="22.94" fill="#cedeb6" fill-opacity="0.55"/>
<path d="M63.29,506.20V483.26H67.21V506.20" fill="none" stroke="#5b8a52" stroke-width="0.8"/>
<rect x="67.21" y="474.33" width="3.93" height="31.87" fill="#cedeb6" fill-opacity="0.55"/>
<path d="M67.21,506.20V474.33H71.14V506.20" fill="none" stroke="#5b8a52" stroke-width="0.8"/>
<rect x="71.14" y="465.60" width="3.93" height="40.60" fill="#cedeb6" fill-opacity="0.55"/>
<path d="M71.14,506.20V465.60H75.07V506.20" fill="none" stroke="#5b8a52" stroke-width="0.8"/>
<rect x="75.07" y="466.62" width="3.93" height="39.58" fill="#cedeb6" fill-opacity="0.55"/>
<path d="M75.07,506.20V466.62H79.00V506.20" fill="none" stroke="#5b8a52" stroke-width="0.8"/>
<rect x="79.00" y="470.68" width="3.93" height="35.52" fill="#cedeb6" fill-opacity="0.55"/>
<path d="M79.00,506.20V470.68H82.92V506.20" fill="none" stroke="#5b8a52" stroke-width="0.8"/>
<rect x="82.92" y="486.41" width="3.93" height="19.79" fill="#cedeb6" fill-opacity="0.55"/>
<path d="M82.92,506.20V486.41H86.85V506.20" fill="none" stroke="#5b8a52" stroke-width="0.8"/>
<rect x="86.85" y="500.31" width="3.93" height="5.89" fill="#cedeb6" fill-opacity="0.55"/>
<path d="M86.85,506.20V500.31H90.78V506.20" fill="none" stroke="#5b8a52" stroke-width="0.8"/>
<rect x="90.78" y="502.34" width="3.93" height="3.86" fill="#cedeb6" fill-opacity="0.55"/>
<path d="M90.78,506.20V502.34H94.70V506.20" fill="none" stroke="#5b8a52" stroke-width="0.8"/>
<rect x="94.70" y="503.36" width="3.93" height="2.84" fill="#cedeb6" fill-opacity="0.55"/>
<path d="M94.70,506.20V503.36H98.63V506.20" fill="none" stroke="#5b8a52" stroke-width="0.8"/>
<rect x="98.63" y="505.59" width="3.93" height="0.61" fill="#cedeb6" fill-opacity="0.55"/>
<path d="M98.63,506.20V505.59H102.56V506.20" fill="none" stroke="#5b8a52" stroke-width="0.8"/>
<line x1="103.20" y1="425.0" x2="103.20" y2="506.2" stroke="#000" stroke-width="1.5" stroke-dasharray="1.25 1.12"/>
<path d="M40.2,506.7V425.0H144.8" fill="none" stroke="#666" stroke-width="1"/>
<line x1="144.8" y1="424.5" x2="144.8" y2="506.7" stroke="#8c8c8c" stroke-width="1"/>
<line x1="39.7" y1="506.2" x2="145.3" y2="506.2" stroke="#8a8a8a" stroke-width="1"/>
<line x1="43.65" y1="506.2" x2="141.83" y2="506.2" stroke="#5a8752" stroke-width="1"/>
<line x1="55.43" y1="505.39" x2="59.36" y2="505.39" stroke="#5b8a52" stroke-width="0.9"/>
<line x1="98.63" y1="505.59" x2="102.56" y2="505.59" stroke="#5b8a52" stroke-width="0.9"/>
</g>
<text x="92.50" y="407.70" font-size="12.2" text-anchor="middle" fill="#222" ><tspan font-family="Liberation Serif" font-style="italic" style="font-size:112%;stroke:none" fill="#333">&#945;</tspan>-satellite HOR</text>
<text x="92.50" y="421.80" font-size="12.2" text-anchor="middle" fill="#222" >70.0Mb</text>
<text x="34.40" y="510.80" font-size="13" text-anchor="end" fill="#222" >0</text>
<text x="34.40" y="470.20" font-size="13" text-anchor="end" fill="#222" >20</text>
<text x="34.40" y="429.60" font-size="13" text-anchor="end" fill="#222" >40</text>
<text x="62.14" y="523.50" font-size="13" text-anchor="middle" fill="#222" >-2</text>
<text x="103.20" y="523.50" font-size="13" text-anchor="middle" fill="#222" >0</text>
<text x="144.26" y="523.50" font-size="13" text-anchor="middle" fill="#222" >2</text>
<text x="92.50" y="541.50" font-size="15" text-anchor="middle" fill="#222" >RT</text>
<text x="0" y="0" font-size="15" text-anchor="middle" fill="#222" transform="translate(11.70,465.60) rotate(-90)">% of windows</text>
<g>
<rect x="174.25" y="506.04" width="3.45" height="0.16" fill="#e8e8e8" fill-opacity="1"/>
<path d="M174.25,506.20V506.04H177.70V506.20" fill="none" stroke="#8a8a8a" stroke-width="0.9"/>
<rect x="193.41" y="504.60" width="3.93" height="1.60" fill="#e8e8e8" fill-opacity="1"/>
<path d="M193.41,506.20V504.60H197.34V506.20" fill="none" stroke="#8a8a8a" stroke-width="0.9"/>
<rect x="197.34" y="500.05" width="3.93" height="6.15" fill="#e8e8e8" fill-opacity="1"/>
<path d="M197.34,506.20V500.05H201.26V506.20" fill="none" stroke="#8a8a8a" stroke-width="0.9"/>
<rect x="201.26" y="497.80" width="3.93" height="8.40" fill="#e8e8e8" fill-opacity="1"/>
<path d="M201.26,506.20V497.80H205.19V506.20" fill="none" stroke="#8a8a8a" stroke-width="0.9"/>
<rect x="205.19" y="497.47" width="3.93" height="8.73" fill="#e8e8e8" fill-opacity="1"/>
<path d="M205.19,506.20V497.47H209.12V506.20" fill="none" stroke="#8a8a8a" stroke-width="0.9"/>
<rect x="209.12" y="496.74" width="3.93" height="9.46" fill="#e8e8e8" fill-opacity="1"/>
<path d="M209.12,506.20V496.74H213.05V506.20" fill="none" stroke="#8a8a8a" stroke-width="0.9"/>
<rect x="213.05" y="496.66" width="3.93" height="9.54" fill="#e8e8e8" fill-opacity="1"/>
<path d="M213.05,506.20V496.66H216.97V506.20" fill="none" stroke="#8a8a8a" stroke-width="0.9"/>
<rect x="216.97" y="496.74" width="3.93" height="9.46" fill="#e8e8e8" fill-opacity="1"/>
<path d="M216.97,506.20V496.74H220.90V506.20" fill="none" stroke="#8a8a8a" stroke-width="0.9"/>
<rect x="220.90" y="496.25" width="3.93" height="9.95" fill="#e8e8e8" fill-opacity="1"/>
<path d="M220.90,506.20V496.25H224.83V506.20" fill="none" stroke="#8a8a8a" stroke-width="0.9"/>
<rect x="224.83" y="495.97" width="3.93" height="10.23" fill="#e8e8e8" fill-opacity="1"/>
<path d="M224.83,506.20V495.97H228.75V506.20" fill="none" stroke="#8a8a8a" stroke-width="0.9"/>
<rect x="228.75" y="495.62" width="3.93" height="10.58" fill="#e8e8e8" fill-opacity="1"/>
<path d="M228.75,506.20V495.62H232.68V506.20" fill="none" stroke="#8a8a8a" stroke-width="0.9"/>
<rect x="232.68" y="495.83" width="3.93" height="10.37" fill="#e8e8e8" fill-opacity="1"/>
<path d="M232.68,506.20V495.83H236.61V506.20" fill="none" stroke="#8a8a8a" stroke-width="0.9"/>
<rect x="236.61" y="495.12" width="3.93" height="11.08" fill="#e8e8e8" fill-opacity="1"/>
<path d="M236.61,506.20V495.12H240.54V506.20" fill="none" stroke="#8a8a8a" stroke-width="0.9"/>
<rect x="240.54" y="495.28" width="3.93" height="10.92" fill="#e8e8e8" fill-opacity="1"/>
<path d="M240.54,506.20V495.28H244.46V506.20" fill="none" stroke="#8a8a8a" stroke-width="0.9"/>
<rect x="244.46" y="495.01" width="3.93" height="11.19" fill="#e8e8e8" fill-opacity="1"/>
<path d="M244.46,506.20V495.01H248.39V506.20" fill="none" stroke="#8a8a8a" stroke-width="0.9"/>
<rect x="248.39" y="493.49" width="3.93" height="12.71" fill="#e8e8e8" fill-opacity="1"/>
<path d="M248.39,506.20V493.49H252.32V506.20" fill="none" stroke="#8a8a8a" stroke-width="0.9"/>
<rect x="252.32" y="492.70" width="3.93" height="13.50" fill="#e8e8e8" fill-opacity="1"/>
<path d="M252.32,506.20V492.70H256.25V506.20" fill="none" stroke="#8a8a8a" stroke-width="0.9"/>
<rect x="256.25" y="490.06" width="3.93" height="16.14" fill="#e8e8e8" fill-opacity="1"/>
<path d="M256.25,506.20V490.06H260.17V506.20" fill="none" stroke="#8a8a8a" stroke-width="0.9"/>
<rect x="260.17" y="488.42" width="3.93" height="17.78" fill="#e8e8e8" fill-opacity="1"/>
<path d="M260.17,506.20V488.42H264.10V506.20" fill="none" stroke="#8a8a8a" stroke-width="0.9"/>
<rect x="264.10" y="494.51" width="3.93" height="11.69" fill="#e8e8e8" fill-opacity="1"/>
<path d="M264.10,506.20V494.51H268.03V506.20" fill="none" stroke="#8a8a8a" stroke-width="0.9"/>
<rect x="268.03" y="503.58" width="3.93" height="2.62" fill="#e8e8e8" fill-opacity="1"/>
<path d="M268.03,506.20V503.58H271.96V506.20" fill="none" stroke="#8a8a8a" stroke-width="0.9"/>
<rect x="271.96" y="506.14" width="3.93" height="0.06" fill="#e8e8e8" fill-opacity="1"/>
<path d="M271.96,506.20V506.14H275.88V506.20" fill="none" stroke="#8a8a8a" stroke-width="0.9"/>
<rect x="275.88" y="506.08" width="2.97" height="0.12" fill="#e8e8e8" fill-opacity="1"/>
<path d="M275.88,506.20V506.08H278.85V506.20" fill="none" stroke="#8a8a8a" stroke-width="0.9"/>
<rect x="193.41" y="491.38" width="3.93" height="14.82" fill="#cedeb6" fill-opacity="0.55"/>
<path d="M193.41,506.20V491.38H197.34V506.20" fill="none" stroke="#5b8a52" stroke-width="0.8"/>
<rect x="197.34" y="480.01" width="3.93" height="26.19" fill="#cedeb6" fill-opacity="0.55"/>
<path d="M197.34,506.20V480.01H201.26V506.20" fill="none" stroke="#5b8a52" stroke-width="0.8"/>
<rect x="201.26" y="432.71" width="3.93" height="73.49" fill="#cedeb6" fill-opacity="0.55"/>
<path d="M201.26,506.20V432.71H205.19V506.20" fill="none" stroke="#5b8a52" stroke-width="0.8"/>
<rect x="205.19" y="490.37" width="3.93" height="15.83" fill="#cedeb6" fill-opacity="0.55"/>
<path d="M205.19,506.20V490.37H209.12V506.20" fill="none" stroke="#5b8a52" stroke-width="0.8"/>
<rect x="209.12" y="470.68" width="3.93" height="35.52" fill="#cedeb6" fill-opacity="0.55"/>
<path d="M209.12,506.20V470.68H213.05V506.20" fill="none" stroke="#5b8a52" stroke-width="0.8"/>
<rect x="213.05" y="495.24" width="3.93" height="10.96" fill="#cedeb6" fill-opacity="0.55"/>
<path d="M213.05,506.20V495.24H216.97V506.20" fill="none" stroke="#5b8a52" stroke-width="0.8"/>
<rect x="216.97" y="494.63" width="3.93" height="11.57" fill="#cedeb6" fill-opacity="0.55"/>
<path d="M216.97,506.20V494.63H220.90V506.20" fill="none" stroke="#5b8a52" stroke-width="0.8"/>
<rect x="220.90" y="500.41" width="3.93" height="5.79" fill="#cedeb6" fill-opacity="0.55"/>
<path d="M220.90,506.20V500.41H224.83V506.20" fill="none" stroke="#5b8a52" stroke-width="0.8"/>
<rect x="228.75" y="500.41" width="3.93" height="5.79" fill="#cedeb6" fill-opacity="0.55"/>
<path d="M228.75,506.20V500.41H232.68V506.20" fill="none" stroke="#5b8a52" stroke-width="0.8"/>
<rect x="232.68" y="502.75" width="3.93" height="3.45" fill="#cedeb6" fill-opacity="0.55"/>
<path d="M232.68,506.20V502.75H236.61V506.20" fill="none" stroke="#5b8a52" stroke-width="0.8"/>
<line x1="237.25" y1="425.0" x2="237.25" y2="506.2" stroke="#000" stroke-width="1.5" stroke-dasharray="1.25 1.12"/>
<path d="M174.25,506.7V425.0H278.85" fill="none" stroke="#666" stroke-width="1"/>
<line x1="278.85" y1="424.5" x2="278.85" y2="506.7" stroke="#8c8c8c" stroke-width="1"/>
<line x1="173.75" y1="506.2" x2="279.35" y2="506.2" stroke="#8a8a8a" stroke-width="1"/>
<line x1="177.70" y1="506.2" x2="275.88" y2="506.2" stroke="#5a8752" stroke-width="1"/>
</g>
<text x="226.55" y="407.70" font-size="12.2" text-anchor="middle" fill="#222" >diverged HOR</text>
<text x="226.55" y="421.80" font-size="12.2" text-anchor="middle" fill="#222" >1.9Mb</text>
<text x="168.45" y="510.80" font-size="13" text-anchor="end" fill="#222" >0</text>
<text x="168.45" y="470.20" font-size="13" text-anchor="end" fill="#222" >20</text>
<text x="168.45" y="429.60" font-size="13" text-anchor="end" fill="#222" >40</text>
<text x="196.19" y="523.50" font-size="13" text-anchor="middle" fill="#222" >-2</text>
<text x="237.25" y="523.50" font-size="13" text-anchor="middle" fill="#222" >0</text>
<text x="278.31" y="523.50" font-size="13" text-anchor="middle" fill="#222" >2</text>
<text x="226.55" y="541.50" font-size="15" text-anchor="middle" fill="#222" >RT</text>
<g>
<rect x="308.30" y="506.04" width="3.45" height="0.16" fill="#e8e8e8" fill-opacity="1"/>
<path d="M308.30,506.20V506.04H311.75V506.20" fill="none" stroke="#8a8a8a" stroke-width="0.9"/>
<rect x="327.46" y="504.60" width="3.93" height="1.60" fill="#e8e8e8" fill-opacity="1"/>
<path d="M327.46,506.20V504.60H331.39V506.20" fill="none" stroke="#8a8a8a" stroke-width="0.9"/>
<rect x="331.39" y="500.05" width="3.93" height="6.15" fill="#e8e8e8" fill-opacity="1"/>
<path d="M331.39,506.20V500.05H335.31V506.20" fill="none" stroke="#8a8a8a" stroke-width="0.9"/>
<rect x="335.31" y="497.80" width="3.93" height="8.40" fill="#e8e8e8" fill-opacity="1"/>
<path d="M335.31,506.20V497.80H339.24V506.20" fill="none" stroke="#8a8a8a" stroke-width="0.9"/>
<rect x="339.24" y="497.47" width="3.93" height="8.73" fill="#e8e8e8" fill-opacity="1"/>
<path d="M339.24,506.20V497.47H343.17V506.20" fill="none" stroke="#8a8a8a" stroke-width="0.9"/>
<rect x="343.17" y="496.74" width="3.93" height="9.46" fill="#e8e8e8" fill-opacity="1"/>
<path d="M343.17,506.20V496.74H347.10V506.20" fill="none" stroke="#8a8a8a" stroke-width="0.9"/>
<rect x="347.10" y="496.66" width="3.93" height="9.54" fill="#e8e8e8" fill-opacity="1"/>
<path d="M347.10,506.20V496.66H351.02V506.20" fill="none" stroke="#8a8a8a" stroke-width="0.9"/>
<rect x="351.02" y="496.74" width="3.93" height="9.46" fill="#e8e8e8" fill-opacity="1"/>
<path d="M351.02,506.20V496.74H354.95V506.20" fill="none" stroke="#8a8a8a" stroke-width="0.9"/>
<rect x="354.95" y="496.25" width="3.93" height="9.95" fill="#e8e8e8" fill-opacity="1"/>
<path d="M354.95,506.20V496.25H358.88V506.20" fill="none" stroke="#8a8a8a" stroke-width="0.9"/>
<rect x="358.88" y="495.97" width="3.93" height="10.23" fill="#e8e8e8" fill-opacity="1"/>
<path d="M358.88,506.20V495.97H362.80V506.20" fill="none" stroke="#8a8a8a" stroke-width="0.9"/>
<rect x="362.80" y="495.62" width="3.93" height="10.58" fill="#e8e8e8" fill-opacity="1"/>
<path d="M362.80,506.20V495.62H366.73V506.20" fill="none" stroke="#8a8a8a" stroke-width="0.9"/>
<rect x="366.73" y="495.83" width="3.93" height="10.37" fill="#e8e8e8" fill-opacity="1"/>
<path d="M366.73,506.20V495.83H370.66V506.20" fill="none" stroke="#8a8a8a" stroke-width="0.9"/>
<rect x="370.66" y="495.12" width="3.93" height="11.08" fill="#e8e8e8" fill-opacity="1"/>
<path d="M370.66,506.20V495.12H374.59V506.20" fill="none" stroke="#8a8a8a" stroke-width="0.9"/>
<rect x="374.59" y="495.28" width="3.93" height="10.92" fill="#e8e8e8" fill-opacity="1"/>
<path d="M374.59,506.20V495.28H378.51V506.20" fill="none" stroke="#8a8a8a" stroke-width="0.9"/>
<rect x="378.51" y="495.01" width="3.93" height="11.19" fill="#e8e8e8" fill-opacity="1"/>
<path d="M378.51,506.20V495.01H382.44V506.20" fill="none" stroke="#8a8a8a" stroke-width="0.9"/>
<rect x="382.44" y="493.49" width="3.93" height="12.71" fill="#e8e8e8" fill-opacity="1"/>
<path d="M382.44,506.20V493.49H386.37V506.20" fill="none" stroke="#8a8a8a" stroke-width="0.9"/>
<rect x="386.37" y="492.70" width="3.93" height="13.50" fill="#e8e8e8" fill-opacity="1"/>
<path d="M386.37,506.20V492.70H390.30V506.20" fill="none" stroke="#8a8a8a" stroke-width="0.9"/>
<rect x="390.30" y="490.06" width="3.93" height="16.14" fill="#e8e8e8" fill-opacity="1"/>
<path d="M390.30,506.20V490.06H394.22V506.20" fill="none" stroke="#8a8a8a" stroke-width="0.9"/>
<rect x="394.22" y="488.42" width="3.93" height="17.78" fill="#e8e8e8" fill-opacity="1"/>
<path d="M394.22,506.20V488.42H398.15V506.20" fill="none" stroke="#8a8a8a" stroke-width="0.9"/>
<rect x="398.15" y="494.51" width="3.93" height="11.69" fill="#e8e8e8" fill-opacity="1"/>
<path d="M398.15,506.20V494.51H402.08V506.20" fill="none" stroke="#8a8a8a" stroke-width="0.9"/>
<rect x="402.08" y="503.58" width="3.93" height="2.62" fill="#e8e8e8" fill-opacity="1"/>
<path d="M402.08,506.20V503.58H406.01V506.20" fill="none" stroke="#8a8a8a" stroke-width="0.9"/>
<rect x="406.01" y="506.14" width="3.93" height="0.06" fill="#e8e8e8" fill-opacity="1"/>
<path d="M406.01,506.20V506.14H409.93V506.20" fill="none" stroke="#8a8a8a" stroke-width="0.9"/>
<rect x="409.93" y="506.08" width="2.97" height="0.12" fill="#e8e8e8" fill-opacity="1"/>
<path d="M409.93,506.20V506.08H412.90V506.20" fill="none" stroke="#8a8a8a" stroke-width="0.9"/>
<rect x="323.53" y="505.59" width="3.93" height="0.61" fill="#cedeb6" fill-opacity="0.55"/>
<path d="M323.53,506.20V505.59H327.46V506.20" fill="none" stroke="#5b8a52" stroke-width="0.8"/>
<rect x="327.46" y="499.70" width="3.93" height="6.50" fill="#cedeb6" fill-opacity="0.55"/>
<path d="M327.46,506.20V499.70H331.39V506.20" fill="none" stroke="#5b8a52" stroke-width="0.8"/>
<rect x="331.39" y="458.50" width="3.93" height="47.70" fill="#cedeb6" fill-opacity="0.55"/>
<path d="M331.39,506.20V458.50H335.31V506.20" fill="none" stroke="#5b8a52" stroke-width="0.8"/>
<rect x="335.31" y="432.92" width="3.93" height="73.28" fill="#cedeb6" fill-opacity="0.55"/>
<path d="M335.31,506.20V432.92H339.24V506.20" fill="none" stroke="#5b8a52" stroke-width="0.8"/>
<rect x="339.24" y="486.31" width="3.93" height="19.89" fill="#cedeb6" fill-opacity="0.55"/>
<path d="M339.24,506.20V486.31H343.17V506.20" fill="none" stroke="#5b8a52" stroke-width="0.8"/>
<rect x="343.17" y="496.46" width="3.93" height="9.74" fill="#cedeb6" fill-opacity="0.55"/>
<path d="M343.17,506.20V496.46H347.10V506.20" fill="none" stroke="#5b8a52" stroke-width="0.8"/>
<rect x="347.10" y="486.31" width="3.93" height="19.89" fill="#cedeb6" fill-opacity="0.55"/>
<path d="M347.10,506.20V486.31H351.02V506.20" fill="none" stroke="#5b8a52" stroke-width="0.8"/>
<rect x="351.02" y="496.86" width="3.93" height="9.34" fill="#cedeb6" fill-opacity="0.55"/>
<path d="M351.02,506.20V496.86H354.95V506.20" fill="none" stroke="#5b8a52" stroke-width="0.8"/>
<rect x="354.95" y="497.27" width="3.93" height="8.93" fill="#cedeb6" fill-opacity="0.55"/>
<path d="M354.95,506.20V497.27H358.88V506.20" fill="none" stroke="#5b8a52" stroke-width="0.8"/>
<rect x="358.88" y="501.33" width="3.93" height="4.87" fill="#cedeb6" fill-opacity="0.55"/>
<path d="M358.88,506.20V501.33H362.80V506.20" fill="none" stroke="#5b8a52" stroke-width="0.8"/>
<rect x="362.80" y="503.76" width="3.93" height="2.44" fill="#cedeb6" fill-opacity="0.55"/>
<path d="M362.80,506.20V503.76H366.73V506.20" fill="none" stroke="#5b8a52" stroke-width="0.8"/>
<rect x="366.73" y="505.19" width="3.93" height="1.01" fill="#cedeb6" fill-opacity="0.55"/>
<path d="M366.73,506.20V505.19H370.66V506.20" fill="none" stroke="#5b8a52" stroke-width="0.8"/>
<rect x="370.66" y="505.39" width="3.93" height="0.81" fill="#cedeb6" fill-opacity="0.55"/>
<path d="M370.66,506.20V505.39H374.59V506.20" fill="none" stroke="#5b8a52" stroke-width="0.8"/>
<rect x="374.59" y="505.39" width="3.93" height="0.81" fill="#cedeb6" fill-opacity="0.55"/>
<path d="M374.59,506.20V505.39H378.51V506.20" fill="none" stroke="#5b8a52" stroke-width="0.8"/>
<rect x="378.51" y="505.79" width="3.93" height="0.41" fill="#cedeb6" fill-opacity="0.55"/>
<path d="M378.51,506.20V505.79H382.44V506.20" fill="none" stroke="#5b8a52" stroke-width="0.8"/>
<line x1="371.30" y1="425.0" x2="371.30" y2="506.2" stroke="#000" stroke-width="1.5" stroke-dasharray="1.25 1.12"/>
<path d="M308.3,506.7V425.0H412.9" fill="none" stroke="#666" stroke-width="1"/>
<line x1="412.9" y1="424.5" x2="412.9" y2="506.7" stroke="#8c8c8c" stroke-width="1"/>
<line x1="307.8" y1="506.2" x2="413.4" y2="506.2" stroke="#8a8a8a" stroke-width="1"/>
<line x1="311.75" y1="506.2" x2="409.93" y2="506.2" stroke="#5a8752" stroke-width="1"/>
<line x1="323.53" y1="505.59" x2="327.46" y2="505.59" stroke="#5b8a52" stroke-width="0.9"/>
<line x1="366.73" y1="505.19" x2="370.66" y2="505.19" stroke="#5b8a52" stroke-width="0.9"/>
<line x1="370.66" y1="505.39" x2="374.59" y2="505.39" stroke="#5b8a52" stroke-width="0.9"/>
<line x1="374.59" y1="505.39" x2="378.51" y2="505.39" stroke="#5b8a52" stroke-width="0.9"/>
<line x1="378.51" y1="505.79" x2="382.44" y2="505.79" stroke="#5b8a52" stroke-width="0.9"/>
</g>
<text x="360.60" y="407.70" font-size="12.2" text-anchor="middle" fill="#222" ><tspan font-family="Liberation Serif" font-style="italic" style="font-size:112%;stroke:none" fill="#333">&#945;</tspan>-satellite monomer</text>
<text x="360.60" y="421.80" font-size="12.2" text-anchor="middle" fill="#222" >13.3Mb</text>
<text x="302.50" y="510.80" font-size="13" text-anchor="end" fill="#222" >0</text>
<text x="302.50" y="470.20" font-size="13" text-anchor="end" fill="#222" >20</text>
<text x="302.50" y="429.60" font-size="13" text-anchor="end" fill="#222" >40</text>
<text x="330.24" y="523.50" font-size="13" text-anchor="middle" fill="#222" >-2</text>
<text x="371.30" y="523.50" font-size="13" text-anchor="middle" fill="#222" >0</text>
<text x="412.36" y="523.50" font-size="13" text-anchor="middle" fill="#222" >2</text>
<text x="360.60" y="541.50" font-size="15" text-anchor="middle" fill="#222" >RT</text>
<g>
<rect x="40.20" y="668.04" width="3.45" height="0.16" fill="#e8e8e8" fill-opacity="1"/>
<path d="M40.20,668.20V668.04H43.65V668.20" fill="none" stroke="#8a8a8a" stroke-width="0.9"/>
<rect x="59.36" y="666.61" width="3.93" height="1.59" fill="#e8e8e8" fill-opacity="1"/>
<path d="M59.36,668.20V666.61H63.29V668.20" fill="none" stroke="#8a8a8a" stroke-width="0.9"/>
<rect x="63.29" y="662.09" width="3.93" height="6.11" fill="#e8e8e8" fill-opacity="1"/>
<path d="M63.29,668.20V662.09H67.21V668.20" fill="none" stroke="#8a8a8a" stroke-width="0.9"/>
<rect x="67.21" y="659.85" width="3.93" height="8.35" fill="#e8e8e8" fill-opacity="1"/>
<path d="M67.21,668.20V659.85H71.14V668.20" fill="none" stroke="#8a8a8a" stroke-width="0.9"/>
<rect x="71.14" y="659.52" width="3.93" height="8.68" fill="#e8e8e8" fill-opacity="1"/>
<path d="M71.14,668.20V659.52H75.07V668.20" fill="none" stroke="#8a8a8a" stroke-width="0.9"/>
<rect x="75.07" y="658.80" width="3.93" height="9.40" fill="#e8e8e8" fill-opacity="1"/>
<path d="M75.07,668.20V658.80H79.00V668.20" fill="none" stroke="#8a8a8a" stroke-width="0.9"/>
<rect x="79.00" y="658.72" width="3.93" height="9.48" fill="#e8e8e8" fill-opacity="1"/>
<path d="M79.00,668.20V658.72H82.92V668.20" fill="none" stroke="#8a8a8a" stroke-width="0.9"/>
<rect x="82.92" y="658.80" width="3.93" height="9.40" fill="#e8e8e8" fill-opacity="1"/>
<path d="M82.92,668.20V658.80H86.85V668.20" fill="none" stroke="#8a8a8a" stroke-width="0.9"/>
<rect x="86.85" y="658.31" width="3.93" height="9.89" fill="#e8e8e8" fill-opacity="1"/>
<path d="M86.85,668.20V658.31H90.78V668.20" fill="none" stroke="#8a8a8a" stroke-width="0.9"/>
<rect x="90.78" y="658.03" width="3.93" height="10.17" fill="#e8e8e8" fill-opacity="1"/>
<path d="M90.78,668.20V658.03H94.70V668.20" fill="none" stroke="#8a8a8a" stroke-width="0.9"/>
<rect x="94.70" y="657.69" width="3.93" height="10.51" fill="#e8e8e8" fill-opacity="1"/>
<path d="M94.70,668.20V657.69H98.63V668.20" fill="none" stroke="#8a8a8a" stroke-width="0.9"/>
<rect x="98.63" y="657.89" width="3.93" height="10.31" fill="#e8e8e8" fill-opacity="1"/>
<path d="M98.63,668.20V657.89H102.56V668.20" fill="none" stroke="#8a8a8a" stroke-width="0.9"/>
<rect x="102.56" y="657.18" width="3.93" height="11.02" fill="#e8e8e8" fill-opacity="1"/>
<path d="M102.56,668.20V657.18H106.49V668.20" fill="none" stroke="#8a8a8a" stroke-width="0.9"/>
<rect x="106.49" y="657.35" width="3.93" height="10.85" fill="#e8e8e8" fill-opacity="1"/>
<path d="M106.49,668.20V657.35H110.41V668.20" fill="none" stroke="#8a8a8a" stroke-width="0.9"/>
<rect x="110.41" y="657.08" width="3.93" height="11.12" fill="#e8e8e8" fill-opacity="1"/>
<path d="M110.41,668.20V657.08H114.34V668.20" fill="none" stroke="#8a8a8a" stroke-width="0.9"/>
<rect x="114.34" y="655.57" width="3.93" height="12.63" fill="#e8e8e8" fill-opacity="1"/>
<path d="M114.34,668.20V655.57H118.27V668.20" fill="none" stroke="#8a8a8a" stroke-width="0.9"/>
<rect x="118.27" y="654.78" width="3.93" height="13.42" fill="#e8e8e8" fill-opacity="1"/>
<path d="M118.27,668.20V654.78H122.20V668.20" fill="none" stroke="#8a8a8a" stroke-width="0.9"/>
<rect x="122.20" y="652.16" width="3.93" height="16.04" fill="#e8e8e8" fill-opacity="1"/>
<path d="M122.20,668.20V652.16H126.12V668.20" fill="none" stroke="#8a8a8a" stroke-width="0.9"/>
<rect x="126.12" y="650.53" width="3.93" height="17.67" fill="#e8e8e8" fill-opacity="1"/>
<path d="M126.12,668.20V650.53H130.05V668.20" fill="none" stroke="#8a8a8a" stroke-width="0.9"/>
<rect x="130.05" y="656.58" width="3.93" height="11.62" fill="#e8e8e8" fill-opacity="1"/>
<path d="M130.05,668.20V656.58H133.98V668.20" fill="none" stroke="#8a8a8a" stroke-width="0.9"/>
<rect x="133.98" y="665.60" width="3.93" height="2.60" fill="#e8e8e8" fill-opacity="1"/>
<path d="M133.98,668.20V665.60H137.91V668.20" fill="none" stroke="#8a8a8a" stroke-width="0.9"/>
<rect x="137.91" y="668.14" width="3.93" height="0.06" fill="#e8e8e8" fill-opacity="1"/>
<path d="M137.91,668.20V668.14H141.83V668.20" fill="none" stroke="#8a8a8a" stroke-width="0.9"/>
<rect x="141.83" y="668.08" width="2.97" height="0.12" fill="#e8e8e8" fill-opacity="1"/>
<path d="M141.83,668.20V668.08H144.80V668.20" fill="none" stroke="#8a8a8a" stroke-width="0.9"/>
<rect x="55.43" y="667.59" width="3.93" height="0.61" fill="#cedeb6" fill-opacity="0.55"/>
<path d="M55.43,668.20V667.59H59.36V668.20" fill="none" stroke="#5b8a52" stroke-width="0.8"/>
<rect x="59.36" y="667.19" width="3.93" height="1.01" fill="#cedeb6" fill-opacity="0.55"/>
<path d="M59.36,668.20V667.19H63.29V668.20" fill="none" stroke="#5b8a52" stroke-width="0.8"/>
<rect x="63.29" y="664.97" width="3.93" height="3.23" fill="#cedeb6" fill-opacity="0.55"/>
<path d="M63.29,668.20V664.97H67.21V668.20" fill="none" stroke="#5b8a52" stroke-width="0.8"/>
<rect x="67.21" y="646.61" width="3.93" height="21.59" fill="#cedeb6" fill-opacity="0.55"/>
<path d="M67.21,668.20V646.61H71.14V668.20" fill="none" stroke="#5b8a52" stroke-width="0.8"/>
<rect x="71.14" y="644.39" width="3.93" height="23.81" fill="#cedeb6" fill-opacity="0.55"/>
<path d="M71.14,668.20V644.39H75.07V668.20" fill="none" stroke="#5b8a52" stroke-width="0.8"/>
<rect x="75.07" y="626.44" width="3.93" height="41.76" fill="#cedeb6" fill-opacity="0.55"/>
<path d="M75.07,668.20V626.44H79.00V668.20" fill="none" stroke="#5b8a52" stroke-width="0.8"/>
<rect x="79.00" y="614.53" width="3.93" height="53.67" fill="#cedeb6" fill-opacity="0.55"/>
<path d="M79.00,668.20V614.53H82.92V668.20" fill="none" stroke="#5b8a52" stroke-width="0.8"/>
<rect x="82.92" y="650.45" width="3.93" height="17.75" fill="#cedeb6" fill-opacity="0.55"/>
<path d="M82.92,668.20V650.45H86.85V668.20" fill="none" stroke="#5b8a52" stroke-width="0.8"/>
<rect x="86.85" y="650.24" width="3.93" height="17.96" fill="#cedeb6" fill-opacity="0.55"/>
<path d="M86.85,668.20V650.24H90.78V668.20" fill="none" stroke="#5b8a52" stroke-width="0.8"/>
<rect x="90.78" y="658.72" width="3.93" height="9.48" fill="#cedeb6" fill-opacity="0.55"/>
<path d="M90.78,668.20V658.72H94.70V668.20" fill="none" stroke="#5b8a52" stroke-width="0.8"/>
<rect x="94.70" y="659.93" width="3.93" height="8.27" fill="#cedeb6" fill-opacity="0.55"/>
<path d="M94.70,668.20V659.93H98.63V668.20" fill="none" stroke="#5b8a52" stroke-width="0.8"/>
<rect x="102.56" y="667.59" width="3.93" height="0.61" fill="#cedeb6" fill-opacity="0.55"/>
<path d="M102.56,668.20V667.59H106.49V668.20" fill="none" stroke="#5b8a52" stroke-width="0.8"/>
<rect x="106.49" y="666.99" width="3.93" height="1.21" fill="#cedeb6" fill-opacity="0.55"/>
<path d="M106.49,668.20V666.99H110.41V668.20" fill="none" stroke="#5b8a52" stroke-width="0.8"/>
<rect x="110.41" y="666.99" width="3.93" height="1.21" fill="#cedeb6" fill-opacity="0.55"/>
<path d="M110.41,668.20V666.99H114.34V668.20" fill="none" stroke="#5b8a52" stroke-width="0.8"/>
<rect x="114.34" y="667.59" width="3.93" height="0.61" fill="#cedeb6" fill-opacity="0.55"/>
<path d="M114.34,668.20V667.59H118.27V668.20" fill="none" stroke="#5b8a52" stroke-width="0.8"/>
<rect x="122.20" y="667.59" width="3.93" height="0.61" fill="#cedeb6" fill-opacity="0.55"/>
<path d="M122.20,668.20V667.59H126.12V668.20" fill="none" stroke="#5b8a52" stroke-width="0.8"/>
<line x1="103.20" y1="587.5" x2="103.20" y2="668.2" stroke="#000" stroke-width="1.5" stroke-dasharray="1.25 1.12"/>
<path d="M40.2,668.7V587.5H144.8" fill="none" stroke="#666" stroke-width="1"/>
<line x1="144.8" y1="587.0" x2="144.8" y2="668.7" stroke="#8c8c8c" stroke-width="1"/>
<line x1="39.7" y1="668.2" x2="145.3" y2="668.2" stroke="#8a8a8a" stroke-width="1"/>
<line x1="43.65" y1="668.2" x2="141.83" y2="668.2" stroke="#5a8752" stroke-width="1"/>
<line x1="55.43" y1="667.59" x2="59.36" y2="667.59" stroke="#5b8a52" stroke-width="0.9"/>
<line x1="59.36" y1="667.19" x2="63.29" y2="667.19" stroke="#5b8a52" stroke-width="0.9"/>
<line x1="102.56" y1="667.59" x2="106.49" y2="667.59" stroke="#5b8a52" stroke-width="0.9"/>
<line x1="106.49" y1="666.99" x2="110.41" y2="666.99" stroke="#5b8a52" stroke-width="0.9"/>
<line x1="110.41" y1="666.99" x2="114.34" y2="666.99" stroke="#5b8a52" stroke-width="0.9"/>
<line x1="114.34" y1="667.59" x2="118.27" y2="667.59" stroke="#5b8a52" stroke-width="0.9"/>
<line x1="122.20" y1="667.59" x2="126.12" y2="667.59" stroke="#5b8a52" stroke-width="0.9"/>
</g>
<text x="92.50" y="570.20" font-size="12.2" text-anchor="middle" fill="#222" ><tspan font-family="Liberation Serif" font-style="italic" style="font-size:105%;stroke:none" fill="#555">&#946;</tspan>-satellite</text>
<text x="92.50" y="584.30" font-size="12.2" text-anchor="middle" fill="#222" >7.7Mb</text>
<text x="34.40" y="672.80" font-size="13" text-anchor="end" fill="#222" >0</text>
<text x="34.40" y="632.45" font-size="13" text-anchor="end" fill="#222" >20</text>
<text x="34.40" y="592.10" font-size="13" text-anchor="end" fill="#222" >40</text>
<text x="62.14" y="685.50" font-size="13" text-anchor="middle" fill="#222" >-2</text>
<text x="103.20" y="685.50" font-size="13" text-anchor="middle" fill="#222" >0</text>
<text x="144.26" y="685.50" font-size="13" text-anchor="middle" fill="#222" >2</text>
<text x="92.50" y="703.50" font-size="15" text-anchor="middle" fill="#222" >RT</text>
<text x="0" y="0" font-size="15" text-anchor="middle" fill="#222" transform="translate(11.70,627.85) rotate(-90)">% of windows</text>
<g>
<rect x="174.25" y="668.04" width="3.45" height="0.16" fill="#e8e8e8" fill-opacity="1"/>
<path d="M174.25,668.20V668.04H177.70V668.20" fill="none" stroke="#8a8a8a" stroke-width="0.9"/>
<rect x="193.41" y="666.61" width="3.93" height="1.59" fill="#e8e8e8" fill-opacity="1"/>
<path d="M193.41,668.20V666.61H197.34V668.20" fill="none" stroke="#8a8a8a" stroke-width="0.9"/>
<rect x="197.34" y="662.09" width="3.93" height="6.11" fill="#e8e8e8" fill-opacity="1"/>
<path d="M197.34,668.20V662.09H201.26V668.20" fill="none" stroke="#8a8a8a" stroke-width="0.9"/>
<rect x="201.26" y="659.85" width="3.93" height="8.35" fill="#e8e8e8" fill-opacity="1"/>
<path d="M201.26,668.20V659.85H205.19V668.20" fill="none" stroke="#8a8a8a" stroke-width="0.9"/>
<rect x="205.19" y="659.52" width="3.93" height="8.68" fill="#e8e8e8" fill-opacity="1"/>
<path d="M205.19,668.20V659.52H209.12V668.20" fill="none" stroke="#8a8a8a" stroke-width="0.9"/>
<rect x="209.12" y="658.80" width="3.93" height="9.40" fill="#e8e8e8" fill-opacity="1"/>
<path d="M209.12,668.20V658.80H213.05V668.20" fill="none" stroke="#8a8a8a" stroke-width="0.9"/>
<rect x="213.05" y="658.72" width="3.93" height="9.48" fill="#e8e8e8" fill-opacity="1"/>
<path d="M213.05,668.20V658.72H216.97V668.20" fill="none" stroke="#8a8a8a" stroke-width="0.9"/>
<rect x="216.97" y="658.80" width="3.93" height="9.40" fill="#e8e8e8" fill-opacity="1"/>
<path d="M216.97,668.20V658.80H220.90V668.20" fill="none" stroke="#8a8a8a" stroke-width="0.9"/>
<rect x="220.90" y="658.31" width="3.93" height="9.89" fill="#e8e8e8" fill-opacity="1"/>
<path d="M220.90,668.20V658.31H224.83V668.20" fill="none" stroke="#8a8a8a" stroke-width="0.9"/>
<rect x="224.83" y="658.03" width="3.93" height="10.17" fill="#e8e8e8" fill-opacity="1"/>
<path d="M224.83,668.20V658.03H228.75V668.20" fill="none" stroke="#8a8a8a" stroke-width="0.9"/>
<rect x="228.75" y="657.69" width="3.93" height="10.51" fill="#e8e8e8" fill-opacity="1"/>
<path d="M228.75,668.20V657.69H232.68V668.20" fill="none" stroke="#8a8a8a" stroke-width="0.9"/>
<rect x="232.68" y="657.89" width="3.93" height="10.31" fill="#e8e8e8" fill-opacity="1"/>
<path d="M232.68,668.20V657.89H236.61V668.20" fill="none" stroke="#8a8a8a" stroke-width="0.9"/>
<rect x="236.61" y="657.18" width="3.93" height="11.02" fill="#e8e8e8" fill-opacity="1"/>
<path d="M236.61,668.20V657.18H240.54V668.20" fill="none" stroke="#8a8a8a" stroke-width="0.9"/>
<rect x="240.54" y="657.35" width="3.93" height="10.85" fill="#e8e8e8" fill-opacity="1"/>
<path d="M240.54,668.20V657.35H244.46V668.20" fill="none" stroke="#8a8a8a" stroke-width="0.9"/>
<rect x="244.46" y="657.08" width="3.93" height="11.12" fill="#e8e8e8" fill-opacity="1"/>
<path d="M244.46,668.20V657.08H248.39V668.20" fill="none" stroke="#8a8a8a" stroke-width="0.9"/>
<rect x="248.39" y="655.57" width="3.93" height="12.63" fill="#e8e8e8" fill-opacity="1"/>
<path d="M248.39,668.20V655.57H252.32V668.20" fill="none" stroke="#8a8a8a" stroke-width="0.9"/>
<rect x="252.32" y="654.78" width="3.93" height="13.42" fill="#e8e8e8" fill-opacity="1"/>
<path d="M252.32,668.20V654.78H256.25V668.20" fill="none" stroke="#8a8a8a" stroke-width="0.9"/>
<rect x="256.25" y="652.16" width="3.93" height="16.04" fill="#e8e8e8" fill-opacity="1"/>
<path d="M256.25,668.20V652.16H260.17V668.20" fill="none" stroke="#8a8a8a" stroke-width="0.9"/>
<rect x="260.17" y="650.53" width="3.93" height="17.67" fill="#e8e8e8" fill-opacity="1"/>
<path d="M260.17,668.20V650.53H264.10V668.20" fill="none" stroke="#8a8a8a" stroke-width="0.9"/>
<rect x="264.10" y="656.58" width="3.93" height="11.62" fill="#e8e8e8" fill-opacity="1"/>
<path d="M264.10,668.20V656.58H268.03V668.20" fill="none" stroke="#8a8a8a" stroke-width="0.9"/>
<rect x="268.03" y="665.60" width="3.93" height="2.60" fill="#e8e8e8" fill-opacity="1"/>
<path d="M268.03,668.20V665.60H271.96V668.20" fill="none" stroke="#8a8a8a" stroke-width="0.9"/>
<rect x="271.96" y="668.14" width="3.93" height="0.06" fill="#e8e8e8" fill-opacity="1"/>
<path d="M271.96,668.20V668.14H275.88V668.20" fill="none" stroke="#8a8a8a" stroke-width="0.9"/>
<rect x="275.88" y="668.08" width="2.97" height="0.12" fill="#e8e8e8" fill-opacity="1"/>
<path d="M275.88,668.20V668.08H278.85V668.20" fill="none" stroke="#8a8a8a" stroke-width="0.9"/>
<rect x="189.48" y="667.59" width="3.93" height="0.61" fill="#cedeb6" fill-opacity="0.55"/>
<path d="M189.48,668.20V667.59H193.41V668.20" fill="none" stroke="#5b8a52" stroke-width="0.8"/>
<rect x="193.41" y="667.19" width="3.93" height="1.01" fill="#cedeb6" fill-opacity="0.55"/>
<path d="M193.41,668.20V667.19H197.34V668.20" fill="none" stroke="#5b8a52" stroke-width="0.8"/>
<rect x="197.34" y="664.97" width="3.93" height="3.23" fill="#cedeb6" fill-opacity="0.55"/>
<path d="M197.34,668.20V664.97H201.26V668.20" fill="none" stroke="#5b8a52" stroke-width="0.8"/>
<rect x="201.26" y="655.09" width="3.93" height="13.11" fill="#cedeb6" fill-opacity="0.55"/>
<path d="M201.26,668.20V655.09H205.19V668.20" fill="none" stroke="#5b8a52" stroke-width="0.8"/>
<rect x="205.19" y="659.12" width="3.93" height="9.08" fill="#cedeb6" fill-opacity="0.55"/>
<path d="M205.19,668.20V659.12H209.12V668.20" fill="none" stroke="#5b8a52" stroke-width="0.8"/>
<rect x="209.12" y="640.16" width="3.93" height="28.04" fill="#cedeb6" fill-opacity="0.55"/>
<path d="M209.12,668.20V640.16H213.05V668.20" fill="none" stroke="#5b8a52" stroke-width="0.8"/>
<rect x="213.05" y="590.53" width="3.93" height="77.67" fill="#cedeb6" fill-opacity="0.55"/>
<path d="M213.05,668.20V590.53H216.97V668.20" fill="none" stroke="#5b8a52" stroke-width="0.8"/>
<rect x="216.97" y="620.18" width="3.93" height="48.02" fill="#cedeb6" fill-opacity="0.55"/>
<path d="M216.97,668.20V620.18H220.90V668.20" fill="none" stroke="#5b8a52" stroke-width="0.8"/>
<rect x="220.90" y="664.37" width="3.93" height="3.83" fill="#cedeb6" fill-opacity="0.55"/>
<path d="M220.90,668.20V664.37H224.83V668.20" fill="none" stroke="#5b8a52" stroke-width="0.8"/>
<rect x="224.83" y="666.49" width="3.93" height="1.71" fill="#cedeb6" fill-opacity="0.55"/>
<path d="M224.83,668.20V666.49H228.75V668.20" fill="none" stroke="#5b8a52" stroke-width="0.8"/>
<rect x="232.68" y="658.92" width="3.93" height="9.28" fill="#cedeb6" fill-opacity="0.55"/>
<path d="M232.68,668.20V658.92H236.61V668.20" fill="none" stroke="#5b8a52" stroke-width="0.8"/>
<rect x="236.61" y="665.17" width="3.93" height="3.03" fill="#cedeb6" fill-opacity="0.55"/>
<path d="M236.61,668.20V665.17H240.54V668.20" fill="none" stroke="#5b8a52" stroke-width="0.8"/>
<rect x="248.39" y="666.18" width="3.93" height="2.02" fill="#cedeb6" fill-opacity="0.55"/>
<path d="M248.39,668.20V666.18H252.32V668.20" fill="none" stroke="#5b8a52" stroke-width="0.8"/>
<line x1="237.25" y1="587.5" x2="237.25" y2="668.2" stroke="#000" stroke-width="1.5" stroke-dasharray="1.25 1.12"/>
<path d="M174.25,668.7V587.5H278.85" fill="none" stroke="#666" stroke-width="1"/>
<line x1="278.85" y1="587.0" x2="278.85" y2="668.7" stroke="#8c8c8c" stroke-width="1"/>
<line x1="173.75" y1="668.2" x2="279.35" y2="668.2" stroke="#8a8a8a" stroke-width="1"/>
<line x1="177.70" y1="668.2" x2="275.88" y2="668.2" stroke="#5a8752" stroke-width="1"/>
<line x1="189.48" y1="667.59" x2="193.41" y2="667.59" stroke="#5b8a52" stroke-width="0.9"/>
<line x1="193.41" y1="667.19" x2="197.34" y2="667.19" stroke="#5b8a52" stroke-width="0.9"/>
</g>
<text x="226.55" y="570.20" font-size="12.2" text-anchor="middle" fill="#222" ><tspan font-family="Liberation Serif" font-style="italic" style="font-size:105%;stroke:none" fill="#555">&#947;</tspan>-satellite</text>
<text x="226.55" y="584.30" font-size="12.2" text-anchor="middle" fill="#222" >0.6Mb</text>
<text x="168.45" y="672.80" font-size="13" text-anchor="end" fill="#222" >0</text>
<text x="168.45" y="632.45" font-size="13" text-anchor="end" fill="#222" >20</text>
<text x="168.45" y="592.10" font-size="13" text-anchor="end" fill="#222" >40</text>
<text x="196.19" y="685.50" font-size="13" text-anchor="middle" fill="#222" >-2</text>
<text x="237.25" y="685.50" font-size="13" text-anchor="middle" fill="#222" >0</text>
<text x="278.31" y="685.50" font-size="13" text-anchor="middle" fill="#222" >2</text>
<text x="226.55" y="703.50" font-size="15" text-anchor="middle" fill="#222" >RT</text>
<g>
<rect x="308.30" y="668.04" width="3.45" height="0.16" fill="#e8e8e8" fill-opacity="1"/>
<path d="M308.30,668.20V668.04H311.75V668.20" fill="none" stroke="#8a8a8a" stroke-width="0.9"/>
<rect x="327.46" y="666.61" width="3.93" height="1.59" fill="#e8e8e8" fill-opacity="1"/>
<path d="M327.46,668.20V666.61H331.39V668.20" fill="none" stroke="#8a8a8a" stroke-width="0.9"/>
<rect x="331.39" y="662.09" width="3.93" height="6.11" fill="#e8e8e8" fill-opacity="1"/>
<path d="M331.39,668.20V662.09H335.31V668.20" fill="none" stroke="#8a8a8a" stroke-width="0.9"/>
<rect x="335.31" y="659.85" width="3.93" height="8.35" fill="#e8e8e8" fill-opacity="1"/>
<path d="M335.31,668.20V659.85H339.24V668.20" fill="none" stroke="#8a8a8a" stroke-width="0.9"/>
<rect x="339.24" y="659.52" width="3.93" height="8.68" fill="#e8e8e8" fill-opacity="1"/>
<path d="M339.24,668.20V659.52H343.17V668.20" fill="none" stroke="#8a8a8a" stroke-width="0.9"/>
<rect x="343.17" y="658.80" width="3.93" height="9.40" fill="#e8e8e8" fill-opacity="1"/>
<path d="M343.17,668.20V658.80H347.10V668.20" fill="none" stroke="#8a8a8a" stroke-width="0.9"/>
<rect x="347.10" y="658.72" width="3.93" height="9.48" fill="#e8e8e8" fill-opacity="1"/>
<path d="M347.10,668.20V658.72H351.02V668.20" fill="none" stroke="#8a8a8a" stroke-width="0.9"/>
<rect x="351.02" y="658.80" width="3.93" height="9.40" fill="#e8e8e8" fill-opacity="1"/>
<path d="M351.02,668.20V658.80H354.95V668.20" fill="none" stroke="#8a8a8a" stroke-width="0.9"/>
<rect x="354.95" y="658.31" width="3.93" height="9.89" fill="#e8e8e8" fill-opacity="1"/>
<path d="M354.95,668.20V658.31H358.88V668.20" fill="none" stroke="#8a8a8a" stroke-width="0.9"/>
<rect x="358.88" y="658.03" width="3.93" height="10.17" fill="#e8e8e8" fill-opacity="1"/>
<path d="M358.88,668.20V658.03H362.80V668.20" fill="none" stroke="#8a8a8a" stroke-width="0.9"/>
<rect x="362.80" y="657.69" width="3.93" height="10.51" fill="#e8e8e8" fill-opacity="1"/>
<path d="M362.80,668.20V657.69H366.73V668.20" fill="none" stroke="#8a8a8a" stroke-width="0.9"/>
<rect x="366.73" y="657.89" width="3.93" height="10.31" fill="#e8e8e8" fill-opacity="1"/>
<path d="M366.73,668.20V657.89H370.66V668.20" fill="none" stroke="#8a8a8a" stroke-width="0.9"/>
<rect x="370.66" y="657.18" width="3.93" height="11.02" fill="#e8e8e8" fill-opacity="1"/>
<path d="M370.66,668.20V657.18H374.59V668.20" fill="none" stroke="#8a8a8a" stroke-width="0.9"/>
<rect x="374.59" y="657.35" width="3.93" height="10.85" fill="#e8e8e8" fill-opacity="1"/>
<path d="M374.59,668.20V657.35H378.51V668.20" fill="none" stroke="#8a8a8a" stroke-width="0.9"/>
<rect x="378.51" y="657.08" width="3.93" height="11.12" fill="#e8e8e8" fill-opacity="1"/>
<path d="M378.51,668.20V657.08H382.44V668.20" fill="none" stroke="#8a8a8a" stroke-width="0.9"/>
<rect x="382.44" y="655.57" width="3.93" height="12.63" fill="#e8e8e8" fill-opacity="1"/>
<path d="M382.44,668.20V655.57H386.37V668.20" fill="none" stroke="#8a8a8a" stroke-width="0.9"/>
<rect x="386.37" y="654.78" width="3.93" height="13.42" fill="#e8e8e8" fill-opacity="1"/>
<path d="M386.37,668.20V654.78H390.30V668.20" fill="none" stroke="#8a8a8a" stroke-width="0.9"/>
<rect x="390.30" y="652.16" width="3.93" height="16.04" fill="#e8e8e8" fill-opacity="1"/>
<path d="M390.30,668.20V652.16H394.22V668.20" fill="none" stroke="#8a8a8a" stroke-width="0.9"/>
<rect x="394.22" y="650.53" width="3.93" height="17.67" fill="#e8e8e8" fill-opacity="1"/>
<path d="M394.22,668.20V650.53H398.15V668.20" fill="none" stroke="#8a8a8a" stroke-width="0.9"/>
<rect x="398.15" y="656.58" width="3.93" height="11.62" fill="#e8e8e8" fill-opacity="1"/>
<path d="M398.15,668.20V656.58H402.08V668.20" fill="none" stroke="#8a8a8a" stroke-width="0.9"/>
<rect x="402.08" y="665.60" width="3.93" height="2.60" fill="#e8e8e8" fill-opacity="1"/>
<path d="M402.08,668.20V665.60H406.01V668.20" fill="none" stroke="#8a8a8a" stroke-width="0.9"/>
<rect x="406.01" y="668.14" width="3.93" height="0.06" fill="#e8e8e8" fill-opacity="1"/>
<path d="M406.01,668.20V668.14H409.93V668.20" fill="none" stroke="#8a8a8a" stroke-width="0.9"/>
<rect x="409.93" y="668.08" width="2.97" height="0.12" fill="#e8e8e8" fill-opacity="1"/>
<path d="M409.93,668.20V668.08H412.90V668.20" fill="none" stroke="#8a8a8a" stroke-width="0.9"/>
<rect x="327.46" y="665.17" width="3.93" height="3.03" fill="#cedeb6" fill-opacity="0.55"/>
<path d="M327.46,668.20V665.17H331.39V668.20" fill="none" stroke="#5b8a52" stroke-width="0.8"/>
<rect x="331.39" y="648.23" width="3.93" height="19.97" fill="#cedeb6" fill-opacity="0.55"/>
<path d="M331.39,668.20V648.23H335.31V668.20" fill="none" stroke="#5b8a52" stroke-width="0.8"/>
<rect x="335.31" y="617.56" width="3.93" height="50.64" fill="#cedeb6" fill-opacity="0.55"/>
<path d="M335.31,668.20V617.56H339.24V668.20" fill="none" stroke="#5b8a52" stroke-width="0.8"/>
<rect x="339.24" y="633.30" width="3.93" height="34.90" fill="#cedeb6" fill-opacity="0.55"/>
<path d="M339.24,668.20V633.30H343.17V668.20" fill="none" stroke="#5b8a52" stroke-width="0.8"/>
<rect x="343.17" y="659.73" width="3.93" height="8.47" fill="#cedeb6" fill-opacity="0.55"/>
<path d="M343.17,668.20V659.73H347.10V668.20" fill="none" stroke="#5b8a52" stroke-width="0.8"/>
<rect x="347.10" y="659.52" width="3.93" height="8.68" fill="#cedeb6" fill-opacity="0.55"/>
<path d="M347.10,668.20V659.52H351.02V668.20" fill="none" stroke="#5b8a52" stroke-width="0.8"/>
<rect x="351.02" y="661.74" width="3.93" height="6.46" fill="#cedeb6" fill-opacity="0.55"/>
<path d="M351.02,668.20V661.74H354.95V668.20" fill="none" stroke="#5b8a52" stroke-width="0.8"/>
<rect x="354.95" y="659.12" width="3.93" height="9.08" fill="#cedeb6" fill-opacity="0.55"/>
<path d="M354.95,668.20V659.12H358.88V668.20" fill="none" stroke="#5b8a52" stroke-width="0.8"/>
<rect x="358.88" y="662.35" width="3.93" height="5.85" fill="#cedeb6" fill-opacity="0.55"/>
<path d="M358.88,668.20V662.35H362.80V668.20" fill="none" stroke="#5b8a52" stroke-width="0.8"/>
<rect x="362.80" y="663.76" width="3.93" height="4.44" fill="#cedeb6" fill-opacity="0.55"/>
<path d="M362.80,668.20V663.76H366.73V668.20" fill="none" stroke="#5b8a52" stroke-width="0.8"/>
<rect x="366.73" y="658.52" width="3.93" height="9.68" fill="#cedeb6" fill-opacity="0.55"/>
<path d="M366.73,668.20V658.52H370.66V668.20" fill="none" stroke="#5b8a52" stroke-width="0.8"/>
<rect x="370.66" y="660.33" width="3.93" height="7.87" fill="#cedeb6" fill-opacity="0.55"/>
<path d="M370.66,668.20V660.33H374.59V668.20" fill="none" stroke="#5b8a52" stroke-width="0.8"/>
<rect x="374.59" y="662.95" width="3.93" height="5.25" fill="#cedeb6" fill-opacity="0.55"/>
<path d="M374.59,668.20V662.95H378.51V668.20" fill="none" stroke="#5b8a52" stroke-width="0.8"/>
<rect x="378.51" y="660.33" width="3.93" height="7.87" fill="#cedeb6" fill-opacity="0.55"/>
<path d="M378.51,668.20V660.33H382.44V668.20" fill="none" stroke="#5b8a52" stroke-width="0.8"/>
<rect x="382.44" y="663.56" width="3.93" height="4.64" fill="#cedeb6" fill-opacity="0.55"/>
<path d="M382.44,668.20V663.56H386.37V668.20" fill="none" stroke="#5b8a52" stroke-width="0.8"/>
<rect x="386.37" y="666.38" width="3.93" height="1.82" fill="#cedeb6" fill-opacity="0.55"/>
<path d="M386.37,668.20V666.38H390.30V668.20" fill="none" stroke="#5b8a52" stroke-width="0.8"/>
<rect x="390.30" y="664.37" width="3.93" height="3.83" fill="#cedeb6" fill-opacity="0.55"/>
<path d="M390.30,668.20V664.37H394.22V668.20" fill="none" stroke="#5b8a52" stroke-width="0.8"/>
<rect x="398.15" y="665.38" width="3.93" height="2.82" fill="#cedeb6" fill-opacity="0.55"/>
<path d="M398.15,668.20V665.38H402.08V668.20" fill="none" stroke="#5b8a52" stroke-width="0.8"/>
<line x1="371.30" y1="587.5" x2="371.30" y2="668.2" stroke="#000" stroke-width="1.5" stroke-dasharray="1.25 1.12"/>
<path d="M308.3,668.7V587.5H412.9" fill="none" stroke="#666" stroke-width="1"/>
<line x1="412.9" y1="587.0" x2="412.9" y2="668.7" stroke="#8c8c8c" stroke-width="1"/>
<line x1="307.8" y1="668.2" x2="413.4" y2="668.2" stroke="#8a8a8a" stroke-width="1"/>
<line x1="311.75" y1="668.2" x2="409.93" y2="668.2" stroke="#5a8752" stroke-width="1"/>
</g>
<text x="360.60" y="570.20" font-size="12.2" text-anchor="middle" fill="#222" >pericentric repeats</text>
<text x="360.60" y="584.30" font-size="12.2" text-anchor="middle" fill="#222" >5.1Mb</text>
<text x="302.50" y="672.80" font-size="13" text-anchor="end" fill="#222" >0</text>
<text x="302.50" y="632.45" font-size="13" text-anchor="end" fill="#222" >20</text>
<text x="302.50" y="592.10" font-size="13" text-anchor="end" fill="#222" >40</text>
<text x="330.24" y="685.50" font-size="13" text-anchor="middle" fill="#222" >-2</text>
<text x="371.30" y="685.50" font-size="13" text-anchor="middle" fill="#222" >0</text>
<text x="412.36" y="685.50" font-size="13" text-anchor="middle" fill="#222" >2</text>
<text x="360.60" y="703.50" font-size="15" text-anchor="middle" fill="#222" >RT</text>
<g>
<rect x="40.20" y="830.14" width="3.45" height="0.16" fill="#e8e8e8" fill-opacity="1"/>
<path d="M40.20,830.30V830.14H43.65V830.30" fill="none" stroke="#8a8a8a" stroke-width="0.9"/>
<rect x="59.36" y="828.71" width="3.93" height="1.59" fill="#e8e8e8" fill-opacity="1"/>
<path d="M59.36,830.30V828.71H63.29V830.30" fill="none" stroke="#8a8a8a" stroke-width="0.9"/>
<rect x="63.29" y="824.19" width="3.93" height="6.11" fill="#e8e8e8" fill-opacity="1"/>
<path d="M63.29,830.30V824.19H67.21V830.30" fill="none" stroke="#8a8a8a" stroke-width="0.9"/>
<rect x="67.21" y="821.96" width="3.93" height="8.34" fill="#e8e8e8" fill-opacity="1"/>
<path d="M67.21,830.30V821.96H71.14V830.30" fill="none" stroke="#8a8a8a" stroke-width="0.9"/>
<rect x="71.14" y="821.64" width="3.93" height="8.66" fill="#e8e8e8" fill-opacity="1"/>
<path d="M71.14,830.30V821.64H75.07V830.30" fill="none" stroke="#8a8a8a" stroke-width="0.9"/>
<rect x="75.07" y="820.91" width="3.93" height="9.39" fill="#e8e8e8" fill-opacity="1"/>
<path d="M75.07,830.30V820.91H79.00V830.30" fill="none" stroke="#8a8a8a" stroke-width="0.9"/>
<rect x="79.00" y="820.83" width="3.93" height="9.47" fill="#e8e8e8" fill-opacity="1"/>
<path d="M79.00,830.30V820.83H82.92V830.30" fill="none" stroke="#8a8a8a" stroke-width="0.9"/>
<rect x="82.92" y="820.91" width="3.93" height="9.39" fill="#e8e8e8" fill-opacity="1"/>
<path d="M82.92,830.30V820.91H86.85V830.30" fill="none" stroke="#8a8a8a" stroke-width="0.9"/>
<rect x="86.85" y="820.43" width="3.93" height="9.87" fill="#e8e8e8" fill-opacity="1"/>
<path d="M86.85,830.30V820.43H90.78V830.30" fill="none" stroke="#8a8a8a" stroke-width="0.9"/>
<rect x="90.78" y="820.14" width="3.93" height="10.16" fill="#e8e8e8" fill-opacity="1"/>
<path d="M90.78,830.30V820.14H94.70V830.30" fill="none" stroke="#8a8a8a" stroke-width="0.9"/>
<rect x="94.70" y="819.80" width="3.93" height="10.50" fill="#e8e8e8" fill-opacity="1"/>
<path d="M94.70,830.30V819.80H98.63V830.30" fill="none" stroke="#8a8a8a" stroke-width="0.9"/>
<rect x="98.63" y="820.00" width="3.93" height="10.30" fill="#e8e8e8" fill-opacity="1"/>
<path d="M98.63,830.30V820.00H102.56V830.30" fill="none" stroke="#8a8a8a" stroke-width="0.9"/>
<rect x="102.56" y="819.30" width="3.93" height="11.00" fill="#e8e8e8" fill-opacity="1"/>
<path d="M102.56,830.30V819.30H106.49V830.30" fill="none" stroke="#8a8a8a" stroke-width="0.9"/>
<rect x="106.49" y="819.46" width="3.93" height="10.84" fill="#e8e8e8" fill-opacity="1"/>
<path d="M106.49,830.30V819.46H110.41V830.30" fill="none" stroke="#8a8a8a" stroke-width="0.9"/>
<rect x="110.41" y="819.20" width="3.93" height="11.10" fill="#e8e8e8" fill-opacity="1"/>
<path d="M110.41,830.30V819.20H114.34V830.30" fill="none" stroke="#8a8a8a" stroke-width="0.9"/>
<rect x="114.34" y="817.69" width="3.93" height="12.61" fill="#e8e8e8" fill-opacity="1"/>
<path d="M114.34,830.30V817.69H118.27V830.30" fill="none" stroke="#8a8a8a" stroke-width="0.9"/>
<rect x="118.27" y="816.90" width="3.93" height="13.40" fill="#e8e8e8" fill-opacity="1"/>
<path d="M118.27,830.30V816.90H122.20V830.30" fill="none" stroke="#8a8a8a" stroke-width="0.9"/>
<rect x="122.20" y="814.28" width="3.93" height="16.02" fill="#e8e8e8" fill-opacity="1"/>
<path d="M122.20,830.30V814.28H126.12V830.30" fill="none" stroke="#8a8a8a" stroke-width="0.9"/>
<rect x="126.12" y="812.65" width="3.93" height="17.65" fill="#e8e8e8" fill-opacity="1"/>
<path d="M126.12,830.30V812.65H130.05V830.30" fill="none" stroke="#8a8a8a" stroke-width="0.9"/>
<rect x="130.05" y="818.69" width="3.93" height="11.61" fill="#e8e8e8" fill-opacity="1"/>
<path d="M130.05,830.30V818.69H133.98V830.30" fill="none" stroke="#8a8a8a" stroke-width="0.9"/>
<rect x="133.98" y="827.70" width="3.93" height="2.60" fill="#e8e8e8" fill-opacity="1"/>
<path d="M133.98,830.30V827.70H137.91V830.30" fill="none" stroke="#8a8a8a" stroke-width="0.9"/>
<rect x="137.91" y="830.24" width="3.93" height="0.06" fill="#e8e8e8" fill-opacity="1"/>
<path d="M137.91,830.30V830.24H141.83V830.30" fill="none" stroke="#8a8a8a" stroke-width="0.9"/>
<rect x="141.83" y="830.18" width="2.97" height="0.12" fill="#e8e8e8" fill-opacity="1"/>
<path d="M141.83,830.30V830.18H144.80V830.30" fill="none" stroke="#8a8a8a" stroke-width="0.9"/>
<rect x="59.36" y="829.70" width="3.93" height="0.60" fill="#cedeb6" fill-opacity="0.55"/>
<path d="M59.36,830.30V829.70H63.29V830.30" fill="none" stroke="#5b8a52" stroke-width="0.8"/>
<rect x="67.21" y="825.46" width="3.93" height="4.84" fill="#cedeb6" fill-opacity="0.55"/>
<path d="M67.21,830.30V825.46H71.14V830.30" fill="none" stroke="#5b8a52" stroke-width="0.8"/>
<rect x="71.14" y="826.07" width="3.93" height="4.23" fill="#cedeb6" fill-opacity="0.55"/>
<path d="M71.14,830.30V826.07H75.07V830.30" fill="none" stroke="#5b8a52" stroke-width="0.8"/>
<rect x="75.07" y="823.45" width="3.93" height="6.85" fill="#cedeb6" fill-opacity="0.55"/>
<path d="M75.07,830.30V823.45H79.00V830.30" fill="none" stroke="#5b8a52" stroke-width="0.8"/>
<rect x="79.00" y="827.48" width="3.93" height="2.82" fill="#cedeb6" fill-opacity="0.55"/>
<path d="M79.00,830.30V827.48H82.92V830.30" fill="none" stroke="#5b8a52" stroke-width="0.8"/>
<rect x="82.92" y="816.40" width="3.93" height="13.90" fill="#cedeb6" fill-opacity="0.55"/>
<path d="M82.92,830.30V816.40H86.85V830.30" fill="none" stroke="#5b8a52" stroke-width="0.8"/>
<rect x="86.85" y="818.41" width="3.93" height="11.89" fill="#cedeb6" fill-opacity="0.55"/>
<path d="M86.85,830.30V818.41H90.78V830.30" fill="none" stroke="#5b8a52" stroke-width="0.8"/>
<rect x="90.78" y="791.01" width="3.93" height="39.29" fill="#cedeb6" fill-opacity="0.55"/>
<path d="M90.78,830.30V791.01H94.70V830.30" fill="none" stroke="#5b8a52" stroke-width="0.8"/>
<rect x="94.70" y="797.25" width="3.93" height="33.05" fill="#cedeb6" fill-opacity="0.55"/>
<path d="M94.70,830.30V797.25H98.63V830.30" fill="none" stroke="#5b8a52" stroke-width="0.8"/>
<rect x="98.63" y="800.48" width="3.93" height="29.82" fill="#cedeb6" fill-opacity="0.55"/>
<path d="M98.63,830.30V800.48H102.56V830.30" fill="none" stroke="#5b8a52" stroke-width="0.8"/>
<rect x="102.56" y="807.33" width="3.93" height="22.97" fill="#cedeb6" fill-opacity="0.55"/>
<path d="M102.56,830.30V807.33H106.49V830.30" fill="none" stroke="#5b8a52" stroke-width="0.8"/>
<rect x="106.49" y="814.38" width="3.93" height="15.92" fill="#cedeb6" fill-opacity="0.55"/>
<path d="M106.49,830.30V814.38H110.41V830.30" fill="none" stroke="#5b8a52" stroke-width="0.8"/>
<rect x="110.41" y="825.26" width="3.93" height="5.04" fill="#cedeb6" fill-opacity="0.55"/>
<path d="M110.41,830.30V825.26H114.34V830.30" fill="none" stroke="#5b8a52" stroke-width="0.8"/>
<rect x="114.34" y="829.39" width="3.93" height="0.91" fill="#cedeb6" fill-opacity="0.55"/>
<path d="M114.34,830.30V829.39H118.27V830.30" fill="none" stroke="#5b8a52" stroke-width="0.8"/>
<rect x="118.27" y="829.39" width="3.93" height="0.91" fill="#cedeb6" fill-opacity="0.55"/>
<path d="M118.27,830.30V829.39H122.20V830.30" fill="none" stroke="#5b8a52" stroke-width="0.8"/>
<rect x="122.20" y="829.90" width="3.93" height="0.40" fill="#cedeb6" fill-opacity="0.55"/>
<path d="M122.20,830.30V829.90H126.12V830.30" fill="none" stroke="#5b8a52" stroke-width="0.8"/>
<rect x="126.12" y="828.28" width="3.93" height="2.01" fill="#cedeb6" fill-opacity="0.55"/>
<path d="M126.12,830.30V828.28H130.05V830.30" fill="none" stroke="#5b8a52" stroke-width="0.8"/>
<line x1="103.20" y1="749.7" x2="103.20" y2="830.3" stroke="#000" stroke-width="1.5" stroke-dasharray="1.25 1.12"/>
<path d="M40.2,830.8V749.7H144.8" fill="none" stroke="#666" stroke-width="1"/>
<line x1="144.8" y1="749.2" x2="144.8" y2="830.8" stroke="#8c8c8c" stroke-width="1"/>
<line x1="39.7" y1="830.3" x2="145.3" y2="830.3" stroke="#8a8a8a" stroke-width="1"/>
<line x1="43.65" y1="830.3" x2="141.83" y2="830.3" stroke="#5a8752" stroke-width="1"/>
<line x1="59.36" y1="829.70" x2="63.29" y2="829.70" stroke="#5b8a52" stroke-width="0.9"/>
<line x1="114.34" y1="829.39" x2="118.27" y2="829.39" stroke="#5b8a52" stroke-width="0.9"/>
<line x1="118.27" y1="829.39" x2="122.20" y2="829.39" stroke="#5b8a52" stroke-width="0.9"/>
<line x1="122.20" y1="829.90" x2="126.12" y2="829.90" stroke="#5b8a52" stroke-width="0.9"/>
</g>
<text x="92.50" y="732.40" font-size="12.2" text-anchor="middle" fill="#222" >human satellite 1</text>
<text x="92.50" y="746.50" font-size="12.2" text-anchor="middle" fill="#222" >14.5Mb</text>
<text x="34.40" y="834.90" font-size="13" text-anchor="end" fill="#222" >0</text>
<text x="34.40" y="794.60" font-size="13" text-anchor="end" fill="#222" >20</text>
<text x="34.40" y="754.30" font-size="13" text-anchor="end" fill="#222" >40</text>
<text x="62.14" y="847.60" font-size="13" text-anchor="middle" fill="#222" >-2</text>
<text x="103.20" y="847.60" font-size="13" text-anchor="middle" fill="#222" >0</text>
<text x="144.26" y="847.60" font-size="13" text-anchor="middle" fill="#222" >2</text>
<text x="92.50" y="865.60" font-size="15" text-anchor="middle" fill="#222" >RT</text>
<text x="0" y="0" font-size="15" text-anchor="middle" fill="#222" transform="translate(11.70,790.00) rotate(-90)">% of windows</text>
<g>
<rect x="174.25" y="830.14" width="3.45" height="0.16" fill="#e8e8e8" fill-opacity="1"/>
<path d="M174.25,830.30V830.14H177.70V830.30" fill="none" stroke="#8a8a8a" stroke-width="0.9"/>
<rect x="193.41" y="828.71" width="3.93" height="1.59" fill="#e8e8e8" fill-opacity="1"/>
<path d="M193.41,830.30V828.71H197.34V830.30" fill="none" stroke="#8a8a8a" stroke-width="0.9"/>
<rect x="197.34" y="824.19" width="3.93" height="6.11" fill="#e8e8e8" fill-opacity="1"/>
<path d="M197.34,830.30V824.19H201.26V830.30" fill="none" stroke="#8a8a8a" stroke-width="0.9"/>
<rect x="201.26" y="821.96" width="3.93" height="8.34" fill="#e8e8e8" fill-opacity="1"/>
<path d="M201.26,830.30V821.96H205.19V830.30" fill="none" stroke="#8a8a8a" stroke-width="0.9"/>
<rect x="205.19" y="821.64" width="3.93" height="8.66" fill="#e8e8e8" fill-opacity="1"/>
<path d="M205.19,830.30V821.64H209.12V830.30" fill="none" stroke="#8a8a8a" stroke-width="0.9"/>
<rect x="209.12" y="820.91" width="3.93" height="9.39" fill="#e8e8e8" fill-opacity="1"/>
<path d="M209.12,830.30V820.91H213.05V830.30" fill="none" stroke="#8a8a8a" stroke-width="0.9"/>
<rect x="213.05" y="820.83" width="3.93" height="9.47" fill="#e8e8e8" fill-opacity="1"/>
<path d="M213.05,830.30V820.83H216.97V830.30" fill="none" stroke="#8a8a8a" stroke-width="0.9"/>
<rect x="216.97" y="820.91" width="3.93" height="9.39" fill="#e8e8e8" fill-opacity="1"/>
<path d="M216.97,830.30V820.91H220.90V830.30" fill="none" stroke="#8a8a8a" stroke-width="0.9"/>
<rect x="220.90" y="820.43" width="3.93" height="9.87" fill="#e8e8e8" fill-opacity="1"/>
<path d="M220.90,830.30V820.43H224.83V830.30" fill="none" stroke="#8a8a8a" stroke-width="0.9"/>
<rect x="224.83" y="820.14" width="3.93" height="10.16" fill="#e8e8e8" fill-opacity="1"/>
<path d="M224.83,830.30V820.14H228.75V830.30" fill="none" stroke="#8a8a8a" stroke-width="0.9"/>
<rect x="228.75" y="819.80" width="3.93" height="10.50" fill="#e8e8e8" fill-opacity="1"/>
<path d="M228.75,830.30V819.80H232.68V830.30" fill="none" stroke="#8a8a8a" stroke-width="0.9"/>
<rect x="232.68" y="820.00" width="3.93" height="10.30" fill="#e8e8e8" fill-opacity="1"/>
<path d="M232.68,830.30V820.00H236.61V830.30" fill="none" stroke="#8a8a8a" stroke-width="0.9"/>
<rect x="236.61" y="819.30" width="3.93" height="11.00" fill="#e8e8e8" fill-opacity="1"/>
<path d="M236.61,830.30V819.30H240.54V830.30" fill="none" stroke="#8a8a8a" stroke-width="0.9"/>
<rect x="240.54" y="819.46" width="3.93" height="10.84" fill="#e8e8e8" fill-opacity="1"/>
<path d="M240.54,830.30V819.46H244.46V830.30" fill="none" stroke="#8a8a8a" stroke-width="0.9"/>
<rect x="244.46" y="819.20" width="3.93" height="11.10" fill="#e8e8e8" fill-opacity="1"/>
<path d="M244.46,830.30V819.20H248.39V830.30" fill="none" stroke="#8a8a8a" stroke-width="0.9"/>
<rect x="248.39" y="817.69" width="3.93" height="12.61" fill="#e8e8e8" fill-opacity="1"/>
<path d="M248.39,830.30V817.69H252.32V830.30" fill="none" stroke="#8a8a8a" stroke-width="0.9"/>
<rect x="252.32" y="816.90" width="3.93" height="13.40" fill="#e8e8e8" fill-opacity="1"/>
<path d="M252.32,830.30V816.90H256.25V830.30" fill="none" stroke="#8a8a8a" stroke-width="0.9"/>
<rect x="256.25" y="814.28" width="3.93" height="16.02" fill="#e8e8e8" fill-opacity="1"/>
<path d="M256.25,830.30V814.28H260.17V830.30" fill="none" stroke="#8a8a8a" stroke-width="0.9"/>
<rect x="260.17" y="812.65" width="3.93" height="17.65" fill="#e8e8e8" fill-opacity="1"/>
<path d="M260.17,830.30V812.65H264.10V830.30" fill="none" stroke="#8a8a8a" stroke-width="0.9"/>
<rect x="264.10" y="818.69" width="3.93" height="11.61" fill="#e8e8e8" fill-opacity="1"/>
<path d="M264.10,830.30V818.69H268.03V830.30" fill="none" stroke="#8a8a8a" stroke-width="0.9"/>
<rect x="268.03" y="827.70" width="3.93" height="2.60" fill="#e8e8e8" fill-opacity="1"/>
<path d="M268.03,830.30V827.70H271.96V830.30" fill="none" stroke="#8a8a8a" stroke-width="0.9"/>
<rect x="271.96" y="830.24" width="3.93" height="0.06" fill="#e8e8e8" fill-opacity="1"/>
<path d="M271.96,830.30V830.24H275.88V830.30" fill="none" stroke="#8a8a8a" stroke-width="0.9"/>
<rect x="275.88" y="830.18" width="2.97" height="0.12" fill="#e8e8e8" fill-opacity="1"/>
<path d="M275.88,830.30V830.18H278.85V830.30" fill="none" stroke="#8a8a8a" stroke-width="0.9"/>
<rect x="189.48" y="829.70" width="3.93" height="0.60" fill="#cedeb6" fill-opacity="0.55"/>
<path d="M189.48,830.30V829.70H193.41V830.30" fill="none" stroke="#5b8a52" stroke-width="0.8"/>
<rect x="193.41" y="795.44" width="3.93" height="34.86" fill="#cedeb6" fill-opacity="0.55"/>
<path d="M193.41,830.30V795.44H197.34V830.30" fill="none" stroke="#5b8a52" stroke-width="0.8"/>
<rect x="197.34" y="797.66" width="3.93" height="32.64" fill="#cedeb6" fill-opacity="0.55"/>
<path d="M197.34,830.30V797.66H201.26V830.30" fill="none" stroke="#5b8a52" stroke-width="0.8"/>
<rect x="201.26" y="767.43" width="3.93" height="62.87" fill="#cedeb6" fill-opacity="0.55"/>
<path d="M201.26,830.30V767.43H205.19V830.30" fill="none" stroke="#5b8a52" stroke-width="0.8"/>
<rect x="205.19" y="796.85" width="3.93" height="33.45" fill="#cedeb6" fill-opacity="0.55"/>
<path d="M205.19,830.30V796.85H209.12V830.30" fill="none" stroke="#5b8a52" stroke-width="0.8"/>
<rect x="209.12" y="816.40" width="3.93" height="13.90" fill="#cedeb6" fill-opacity="0.55"/>
<path d="M209.12,830.30V816.40H213.05V830.30" fill="none" stroke="#5b8a52" stroke-width="0.8"/>
<rect x="213.05" y="823.25" width="3.93" height="7.05" fill="#cedeb6" fill-opacity="0.55"/>
<path d="M213.05,830.30V823.25H216.97V830.30" fill="none" stroke="#5b8a52" stroke-width="0.8"/>
<rect x="216.97" y="829.70" width="3.93" height="0.60" fill="#cedeb6" fill-opacity="0.55"/>
<path d="M216.97,830.30V829.70H220.90V830.30" fill="none" stroke="#5b8a52" stroke-width="0.8"/>
<rect x="220.90" y="829.70" width="3.93" height="0.60" fill="#cedeb6" fill-opacity="0.55"/>
<path d="M220.90,830.30V829.70H224.83V830.30" fill="none" stroke="#5b8a52" stroke-width="0.8"/>
<rect x="224.83" y="828.49" width="3.93" height="1.81" fill="#cedeb6" fill-opacity="0.55"/>
<path d="M224.83,830.30V828.49H228.75V830.30" fill="none" stroke="#5b8a52" stroke-width="0.8"/>
<rect x="228.75" y="829.70" width="3.93" height="0.60" fill="#cedeb6" fill-opacity="0.55"/>
<path d="M228.75,830.30V829.70H232.68V830.30" fill="none" stroke="#5b8a52" stroke-width="0.8"/>
<rect x="232.68" y="829.70" width="3.93" height="0.60" fill="#cedeb6" fill-opacity="0.55"/>
<path d="M232.68,830.30V829.70H236.61V830.30" fill="none" stroke="#5b8a52" stroke-width="0.8"/>
<rect x="236.61" y="829.70" width="3.93" height="0.60" fill="#cedeb6" fill-opacity="0.55"/>
<path d="M236.61,830.30V829.70H240.54V830.30" fill="none" stroke="#5b8a52" stroke-width="0.8"/>
<rect x="248.39" y="828.28" width="3.93" height="2.01" fill="#cedeb6" fill-opacity="0.55"/>
<path d="M248.39,830.30V828.28H252.32V830.30" fill="none" stroke="#5b8a52" stroke-width="0.8"/>
<line x1="237.25" y1="749.7" x2="237.25" y2="830.3" stroke="#000" stroke-width="1.5" stroke-dasharray="1.25 1.12"/>
<path d="M174.25,830.8V749.7H278.85" fill="none" stroke="#666" stroke-width="1"/>
<line x1="278.85" y1="749.2" x2="278.85" y2="830.8" stroke="#8c8c8c" stroke-width="1"/>
<line x1="173.75" y1="830.3" x2="279.35" y2="830.3" stroke="#8a8a8a" stroke-width="1"/>
<line x1="177.70" y1="830.3" x2="275.88" y2="830.3" stroke="#5a8752" stroke-width="1"/>
<line x1="189.48" y1="829.70" x2="193.41" y2="829.70" stroke="#5b8a52" stroke-width="0.9"/>
<line x1="216.97" y1="829.70" x2="220.90" y2="829.70" stroke="#5b8a52" stroke-width="0.9"/>
<line x1="220.90" y1="829.70" x2="224.83" y2="829.70" stroke="#5b8a52" stroke-width="0.9"/>
<line x1="228.75" y1="829.70" x2="232.68" y2="829.70" stroke="#5b8a52" stroke-width="0.9"/>
<line x1="232.68" y1="829.70" x2="236.61" y2="829.70" stroke="#5b8a52" stroke-width="0.9"/>
<line x1="236.61" y1="829.70" x2="240.54" y2="829.70" stroke="#5b8a52" stroke-width="0.9"/>
</g>
<text x="226.55" y="732.40" font-size="12.2" text-anchor="middle" fill="#222" >human satellite 2</text>
<text x="226.55" y="746.50" font-size="12.2" text-anchor="middle" fill="#222" >28.7Mb</text>
<text x="168.45" y="834.90" font-size="13" text-anchor="end" fill="#222" >0</text>
<text x="168.45" y="794.60" font-size="13" text-anchor="end" fill="#222" >20</text>
<text x="168.45" y="754.30" font-size="13" text-anchor="end" fill="#222" >40</text>
<text x="196.19" y="847.60" font-size="13" text-anchor="middle" fill="#222" >-2</text>
<text x="237.25" y="847.60" font-size="13" text-anchor="middle" fill="#222" >0</text>
<text x="278.31" y="847.60" font-size="13" text-anchor="middle" fill="#222" >2</text>
<text x="226.55" y="865.60" font-size="15" text-anchor="middle" fill="#222" >RT</text>
<g>
<rect x="308.30" y="830.14" width="3.45" height="0.16" fill="#e8e8e8" fill-opacity="1"/>
<path d="M308.30,830.30V830.14H311.75V830.30" fill="none" stroke="#8a8a8a" stroke-width="0.9"/>
<rect x="327.46" y="828.71" width="3.93" height="1.59" fill="#e8e8e8" fill-opacity="1"/>
<path d="M327.46,830.30V828.71H331.39V830.30" fill="none" stroke="#8a8a8a" stroke-width="0.9"/>
<rect x="331.39" y="824.19" width="3.93" height="6.11" fill="#e8e8e8" fill-opacity="1"/>
<path d="M331.39,830.30V824.19H335.31V830.30" fill="none" stroke="#8a8a8a" stroke-width="0.9"/>
<rect x="335.31" y="821.96" width="3.93" height="8.34" fill="#e8e8e8" fill-opacity="1"/>
<path d="M335.31,830.30V821.96H339.24V830.30" fill="none" stroke="#8a8a8a" stroke-width="0.9"/>
<rect x="339.24" y="821.64" width="3.93" height="8.66" fill="#e8e8e8" fill-opacity="1"/>
<path d="M339.24,830.30V821.64H343.17V830.30" fill="none" stroke="#8a8a8a" stroke-width="0.9"/>
<rect x="343.17" y="820.91" width="3.93" height="9.39" fill="#e8e8e8" fill-opacity="1"/>
<path d="M343.17,830.30V820.91H347.10V830.30" fill="none" stroke="#8a8a8a" stroke-width="0.9"/>
<rect x="347.10" y="820.83" width="3.93" height="9.47" fill="#e8e8e8" fill-opacity="1"/>
<path d="M347.10,830.30V820.83H351.02V830.30" fill="none" stroke="#8a8a8a" stroke-width="0.9"/>
<rect x="351.02" y="820.91" width="3.93" height="9.39" fill="#e8e8e8" fill-opacity="1"/>
<path d="M351.02,830.30V820.91H354.95V830.30" fill="none" stroke="#8a8a8a" stroke-width="0.9"/>
<rect x="354.95" y="820.43" width="3.93" height="9.87" fill="#e8e8e8" fill-opacity="1"/>
<path d="M354.95,830.30V820.43H358.88V830.30" fill="none" stroke="#8a8a8a" stroke-width="0.9"/>
<rect x="358.88" y="820.14" width="3.93" height="10.16" fill="#e8e8e8" fill-opacity="1"/>
<path d="M358.88,830.30V820.14H362.80V830.30" fill="none" stroke="#8a8a8a" stroke-width="0.9"/>
<rect x="362.80" y="819.80" width="3.93" height="10.50" fill="#e8e8e8" fill-opacity="1"/>
<path d="M362.80,830.30V819.80H366.73V830.30" fill="none" stroke="#8a8a8a" stroke-width="0.9"/>
<rect x="366.73" y="820.00" width="3.93" height="10.30" fill="#e8e8e8" fill-opacity="1"/>
<path d="M366.73,830.30V820.00H370.66V830.30" fill="none" stroke="#8a8a8a" stroke-width="0.9"/>
<rect x="370.66" y="819.30" width="3.93" height="11.00" fill="#e8e8e8" fill-opacity="1"/>
<path d="M370.66,830.30V819.30H374.59V830.30" fill="none" stroke="#8a8a8a" stroke-width="0.9"/>
<rect x="374.59" y="819.46" width="3.93" height="10.84" fill="#e8e8e8" fill-opacity="1"/>
<path d="M374.59,830.30V819.46H378.51V830.30" fill="none" stroke="#8a8a8a" stroke-width="0.9"/>
<rect x="378.51" y="819.20" width="3.93" height="11.10" fill="#e8e8e8" fill-opacity="1"/>
<path d="M378.51,830.30V819.20H382.44V830.30" fill="none" stroke="#8a8a8a" stroke-width="0.9"/>
<rect x="382.44" y="817.69" width="3.93" height="12.61" fill="#e8e8e8" fill-opacity="1"/>
<path d="M382.44,830.30V817.69H386.37V830.30" fill="none" stroke="#8a8a8a" stroke-width="0.9"/>
<rect x="386.37" y="816.90" width="3.93" height="13.40" fill="#e8e8e8" fill-opacity="1"/>
<path d="M386.37,830.30V816.90H390.30V830.30" fill="none" stroke="#8a8a8a" stroke-width="0.9"/>
<rect x="390.30" y="814.28" width="3.93" height="16.02" fill="#e8e8e8" fill-opacity="1"/>
<path d="M390.30,830.30V814.28H394.22V830.30" fill="none" stroke="#8a8a8a" stroke-width="0.9"/>
<rect x="394.22" y="812.65" width="3.93" height="17.65" fill="#e8e8e8" fill-opacity="1"/>
<path d="M394.22,830.30V812.65H398.15V830.30" fill="none" stroke="#8a8a8a" stroke-width="0.9"/>
<rect x="398.15" y="818.69" width="3.93" height="11.61" fill="#e8e8e8" fill-opacity="1"/>
<path d="M398.15,830.30V818.69H402.08V830.30" fill="none" stroke="#8a8a8a" stroke-width="0.9"/>
<rect x="402.08" y="827.70" width="3.93" height="2.60" fill="#e8e8e8" fill-opacity="1"/>
<path d="M402.08,830.30V827.70H406.01V830.30" fill="none" stroke="#8a8a8a" stroke-width="0.9"/>
<rect x="406.01" y="830.24" width="3.93" height="0.06" fill="#e8e8e8" fill-opacity="1"/>
<path d="M406.01,830.30V830.24H409.93V830.30" fill="none" stroke="#8a8a8a" stroke-width="0.9"/>
<rect x="409.93" y="830.18" width="2.97" height="0.12" fill="#e8e8e8" fill-opacity="1"/>
<path d="M409.93,830.30V830.18H412.90V830.30" fill="none" stroke="#8a8a8a" stroke-width="0.9"/>
<rect x="319.60" y="829.29" width="3.93" height="1.01" fill="#cedeb6" fill-opacity="0.55"/>
<path d="M319.60,830.30V829.29H323.53V830.30" fill="none" stroke="#5b8a52" stroke-width="0.8"/>
<rect x="323.53" y="824.05" width="3.93" height="6.25" fill="#cedeb6" fill-opacity="0.55"/>
<path d="M323.53,830.30V824.05H327.46V830.30" fill="none" stroke="#5b8a52" stroke-width="0.8"/>
<rect x="327.46" y="802.29" width="3.93" height="28.01" fill="#cedeb6" fill-opacity="0.55"/>
<path d="M327.46,830.30V802.29H331.39V830.30" fill="none" stroke="#5b8a52" stroke-width="0.8"/>
<rect x="331.39" y="760.38" width="3.93" height="69.92" fill="#cedeb6" fill-opacity="0.55"/>
<path d="M331.39,830.30V760.38H335.31V830.30" fill="none" stroke="#5b8a52" stroke-width="0.8"/>
<rect x="335.31" y="797.46" width="3.93" height="32.84" fill="#cedeb6" fill-opacity="0.55"/>
<path d="M335.31,830.30V797.46H339.24V830.30" fill="none" stroke="#5b8a52" stroke-width="0.8"/>
<rect x="339.24" y="809.34" width="3.93" height="20.96" fill="#cedeb6" fill-opacity="0.55"/>
<path d="M339.24,830.30V809.34H343.17V830.30" fill="none" stroke="#5b8a52" stroke-width="0.8"/>
<rect x="343.17" y="820.83" width="3.93" height="9.47" fill="#cedeb6" fill-opacity="0.55"/>
<path d="M343.17,830.30V820.83H347.10V830.30" fill="none" stroke="#5b8a52" stroke-width="0.8"/>
<rect x="347.10" y="821.23" width="3.93" height="9.07" fill="#cedeb6" fill-opacity="0.55"/>
<path d="M347.10,830.30V821.23H351.02V830.30" fill="none" stroke="#5b8a52" stroke-width="0.8"/>
<rect x="351.02" y="825.26" width="3.93" height="5.04" fill="#cedeb6" fill-opacity="0.55"/>
<path d="M351.02,830.30V825.26H354.95V830.30" fill="none" stroke="#5b8a52" stroke-width="0.8"/>
<rect x="354.95" y="828.49" width="3.93" height="1.81" fill="#cedeb6" fill-opacity="0.55"/>
<path d="M354.95,830.30V828.49H358.88V830.30" fill="none" stroke="#5b8a52" stroke-width="0.8"/>
<rect x="358.88" y="824.05" width="3.93" height="6.25" fill="#cedeb6" fill-opacity="0.55"/>
<path d="M358.88,830.30V824.05H362.80V830.30" fill="none" stroke="#5b8a52" stroke-width="0.8"/>
<rect x="362.80" y="828.49" width="3.93" height="1.81" fill="#cedeb6" fill-opacity="0.55"/>
<path d="M362.80,830.30V828.49H366.73V830.30" fill="none" stroke="#5b8a52" stroke-width="0.8"/>
<rect x="366.73" y="828.49" width="3.93" height="1.81" fill="#cedeb6" fill-opacity="0.55"/>
<path d="M366.73,830.30V828.49H370.66V830.30" fill="none" stroke="#5b8a52" stroke-width="0.8"/>
<rect x="370.66" y="829.70" width="3.93" height="0.60" fill="#cedeb6" fill-opacity="0.55"/>
<path d="M370.66,830.30V829.70H374.59V830.30" fill="none" stroke="#5b8a52" stroke-width="0.8"/>
<rect x="374.59" y="829.70" width="3.93" height="0.60" fill="#cedeb6" fill-opacity="0.55"/>
<path d="M374.59,830.30V829.70H378.51V830.30" fill="none" stroke="#5b8a52" stroke-width="0.8"/>
<line x1="371.30" y1="749.7" x2="371.30" y2="830.3" stroke="#000" stroke-width="1.5" stroke-dasharray="1.25 1.12"/>
<path d="M308.3,830.8V749.7H412.9" fill="none" stroke="#666" stroke-width="1"/>
<line x1="412.9" y1="749.2" x2="412.9" y2="830.8" stroke="#8c8c8c" stroke-width="1"/>
<line x1="307.8" y1="830.3" x2="413.4" y2="830.3" stroke="#8a8a8a" stroke-width="1"/>
<line x1="311.75" y1="830.3" x2="409.93" y2="830.3" stroke="#5a8752" stroke-width="1"/>
<line x1="319.60" y1="829.29" x2="323.53" y2="829.29" stroke="#5b8a52" stroke-width="0.9"/>
<line x1="370.66" y1="829.70" x2="374.59" y2="829.70" stroke="#5b8a52" stroke-width="0.9"/>
<line x1="374.59" y1="829.70" x2="378.51" y2="829.70" stroke="#5b8a52" stroke-width="0.9"/>
</g>
<text x="360.60" y="732.40" font-size="12.2" text-anchor="middle" fill="#222" >human satellite 3</text>
<text x="360.60" y="746.50" font-size="12.2" text-anchor="middle" fill="#222" >47.6Mb</text>
<text x="302.50" y="834.90" font-size="13" text-anchor="end" fill="#222" >0</text>
<text x="302.50" y="794.60" font-size="13" text-anchor="end" fill="#222" >20</text>
<text x="302.50" y="754.30" font-size="13" text-anchor="end" fill="#222" >40</text>
<text x="330.24" y="847.60" font-size="13" text-anchor="middle" fill="#222" >-2</text>
<text x="371.30" y="847.60" font-size="13" text-anchor="middle" fill="#222" >0</text>
<text x="412.36" y="847.60" font-size="13" text-anchor="middle" fill="#222" >2</text>
<text x="360.60" y="865.60" font-size="15" text-anchor="middle" fill="#222" >RT</text>
<g>
<rect x="442.35" y="830.14" width="3.45" height="0.16" fill="#e8e8e8" fill-opacity="1"/>
<path d="M442.35,830.30V830.14H445.80V830.30" fill="none" stroke="#8a8a8a" stroke-width="0.9"/>
<rect x="461.51" y="828.71" width="3.93" height="1.59" fill="#e8e8e8" fill-opacity="1"/>
<path d="M461.51,830.30V828.71H465.44V830.30" fill="none" stroke="#8a8a8a" stroke-width="0.9"/>
<rect x="465.44" y="824.19" width="3.93" height="6.11" fill="#e8e8e8" fill-opacity="1"/>
<path d="M465.44,830.30V824.19H469.36V830.30" fill="none" stroke="#8a8a8a" stroke-width="0.9"/>
<rect x="469.36" y="821.96" width="3.93" height="8.34" fill="#e8e8e8" fill-opacity="1"/>
<path d="M469.36,830.30V821.96H473.29V830.30" fill="none" stroke="#8a8a8a" stroke-width="0.9"/>
<rect x="473.29" y="821.64" width="3.93" height="8.66" fill="#e8e8e8" fill-opacity="1"/>
<path d="M473.29,830.30V821.64H477.22V830.30" fill="none" stroke="#8a8a8a" stroke-width="0.9"/>
<rect x="477.22" y="820.91" width="3.93" height="9.39" fill="#e8e8e8" fill-opacity="1"/>
<path d="M477.22,830.30V820.91H481.15V830.30" fill="none" stroke="#8a8a8a" stroke-width="0.9"/>
<rect x="481.15" y="820.83" width="3.93" height="9.47" fill="#e8e8e8" fill-opacity="1"/>
<path d="M481.15,830.30V820.83H485.07V830.30" fill="none" stroke="#8a8a8a" stroke-width="0.9"/>
<rect x="485.07" y="820.91" width="3.93" height="9.39" fill="#e8e8e8" fill-opacity="1"/>
<path d="M485.07,830.30V820.91H489.00V830.30" fill="none" stroke="#8a8a8a" stroke-width="0.9"/>
<rect x="489.00" y="820.43" width="3.93" height="9.87" fill="#e8e8e8" fill-opacity="1"/>
<path d="M489.00,830.30V820.43H492.93V830.30" fill="none" stroke="#8a8a8a" stroke-width="0.9"/>
<rect x="492.93" y="820.14" width="3.93" height="10.16" fill="#e8e8e8" fill-opacity="1"/>
<path d="M492.93,830.30V820.14H496.85V830.30" fill="none" stroke="#8a8a8a" stroke-width="0.9"/>
<rect x="496.85" y="819.80" width="3.93" height="10.50" fill="#e8e8e8" fill-opacity="1"/>
<path d="M496.85,830.30V819.80H500.78V830.30" fill="none" stroke="#8a8a8a" stroke-width="0.9"/>
<rect x="500.78" y="820.00" width="3.93" height="10.30" fill="#e8e8e8" fill-opacity="1"/>
<path d="M500.78,830.30V820.00H504.71V830.30" fill="none" stroke="#8a8a8a" stroke-width="0.9"/>
<rect x="504.71" y="819.30" width="3.93" height="11.00" fill="#e8e8e8" fill-opacity="1"/>
<path d="M504.71,830.30V819.30H508.64V830.30" fill="none" stroke="#8a8a8a" stroke-width="0.9"/>
<rect x="508.64" y="819.46" width="3.93" height="10.84" fill="#e8e8e8" fill-opacity="1"/>
<path d="M508.64,830.30V819.46H512.56V830.30" fill="none" stroke="#8a8a8a" stroke-width="0.9"/>
<rect x="512.56" y="819.20" width="3.93" height="11.10" fill="#e8e8e8" fill-opacity="1"/>
<path d="M512.56,830.30V819.20H516.49V830.30" fill="none" stroke="#8a8a8a" stroke-width="0.9"/>
<rect x="516.49" y="817.69" width="3.93" height="12.61" fill="#e8e8e8" fill-opacity="1"/>
<path d="M516.49,830.30V817.69H520.42V830.30" fill="none" stroke="#8a8a8a" stroke-width="0.9"/>
<rect x="520.42" y="816.90" width="3.93" height="13.40" fill="#e8e8e8" fill-opacity="1"/>
<path d="M520.42,830.30V816.90H524.35V830.30" fill="none" stroke="#8a8a8a" stroke-width="0.9"/>
<rect x="524.35" y="814.28" width="3.93" height="16.02" fill="#e8e8e8" fill-opacity="1"/>
<path d="M524.35,830.30V814.28H528.27V830.30" fill="none" stroke="#8a8a8a" stroke-width="0.9"/>
<rect x="528.27" y="812.65" width="3.93" height="17.65" fill="#e8e8e8" fill-opacity="1"/>
<path d="M528.27,830.30V812.65H532.20V830.30" fill="none" stroke="#8a8a8a" stroke-width="0.9"/>
<rect x="532.20" y="818.69" width="3.93" height="11.61" fill="#e8e8e8" fill-opacity="1"/>
<path d="M532.20,830.30V818.69H536.13V830.30" fill="none" stroke="#8a8a8a" stroke-width="0.9"/>
<rect x="536.13" y="827.70" width="3.93" height="2.60" fill="#e8e8e8" fill-opacity="1"/>
<path d="M536.13,830.30V827.70H540.06V830.30" fill="none" stroke="#8a8a8a" stroke-width="0.9"/>
<rect x="540.06" y="830.24" width="3.93" height="0.06" fill="#e8e8e8" fill-opacity="1"/>
<path d="M540.06,830.30V830.24H543.98V830.30" fill="none" stroke="#8a8a8a" stroke-width="0.9"/>
<rect x="543.98" y="830.18" width="2.97" height="0.12" fill="#e8e8e8" fill-opacity="1"/>
<path d="M543.98,830.30V830.18H546.95V830.30" fill="none" stroke="#8a8a8a" stroke-width="0.9"/>
<rect x="473.29" y="819.62" width="3.93" height="10.68" fill="#cedeb6" fill-opacity="0.55"/>
<path d="M473.29,830.30V819.62H477.22V830.30" fill="none" stroke="#5b8a52" stroke-width="0.8"/>
<rect x="477.22" y="819.62" width="3.93" height="10.68" fill="#cedeb6" fill-opacity="0.55"/>
<path d="M477.22,830.30V819.62H481.15V830.30" fill="none" stroke="#5b8a52" stroke-width="0.8"/>
<rect x="481.15" y="769.45" width="3.93" height="60.85" fill="#cedeb6" fill-opacity="0.55"/>
<path d="M481.15,830.30V769.45H485.07V830.30" fill="none" stroke="#5b8a52" stroke-width="0.8"/>
<rect x="485.07" y="796.45" width="3.93" height="33.85" fill="#cedeb6" fill-opacity="0.55"/>
<path d="M485.07,830.30V796.45H489.00V830.30" fill="none" stroke="#5b8a52" stroke-width="0.8"/>
<rect x="489.00" y="794.84" width="3.93" height="35.46" fill="#cedeb6" fill-opacity="0.55"/>
<path d="M489.00,830.30V794.84H492.93V830.30" fill="none" stroke="#5b8a52" stroke-width="0.8"/>
<rect x="492.93" y="793.02" width="3.93" height="37.28" fill="#cedeb6" fill-opacity="0.55"/>
<path d="M492.93,830.30V793.02H496.85V830.30" fill="none" stroke="#5b8a52" stroke-width="0.8"/>
<rect x="496.85" y="821.23" width="3.93" height="9.07" fill="#cedeb6" fill-opacity="0.55"/>
<path d="M496.85,830.30V821.23H500.78V830.30" fill="none" stroke="#5b8a52" stroke-width="0.8"/>
<line x1="505.35" y1="749.7" x2="505.35" y2="830.3" stroke="#000" stroke-width="1.5" stroke-dasharray="1.25 1.12"/>
<path d="M442.35,830.8V749.7H546.95" fill="none" stroke="#666" stroke-width="1"/>
<line x1="546.95" y1="749.2" x2="546.95" y2="830.8" stroke="#8c8c8c" stroke-width="1"/>
<line x1="441.85" y1="830.3" x2="547.45" y2="830.3" stroke="#8a8a8a" stroke-width="1"/>
<line x1="445.80" y1="830.3" x2="543.98" y2="830.3" stroke="#5a8752" stroke-width="1"/>
</g>
<text x="494.65" y="732.40" font-size="12.2" text-anchor="middle" fill="#222" >human satellite 4</text>
<text x="494.65" y="746.50" font-size="12.2" text-anchor="middle" fill="#222" >0.2Mb</text>
<text x="436.55" y="834.90" font-size="13" text-anchor="end" fill="#222" >0</text>
<text x="436.55" y="794.60" font-size="13" text-anchor="end" fill="#222" >20</text>
<text x="436.55" y="754.30" font-size="13" text-anchor="end" fill="#222" >40</text>
<text x="464.29" y="847.60" font-size="13" text-anchor="middle" fill="#222" >-2</text>
<text x="505.35" y="847.60" font-size="13" text-anchor="middle" fill="#222" >0</text>
<text x="546.41" y="847.60" font-size="13" text-anchor="middle" fill="#222" >2</text>
<text x="494.65" y="865.60" font-size="15" text-anchor="middle" fill="#222" >RT</text>
<g>
<rect x="576.40" y="830.14" width="3.45" height="0.16" fill="#e8e8e8" fill-opacity="1"/>
<path d="M576.40,830.30V830.14H579.85V830.30" fill="none" stroke="#8a8a8a" stroke-width="0.9"/>
<rect x="595.56" y="828.71" width="3.93" height="1.59" fill="#e8e8e8" fill-opacity="1"/>
<path d="M595.56,830.30V828.71H599.49V830.30" fill="none" stroke="#8a8a8a" stroke-width="0.9"/>
<rect x="599.49" y="824.19" width="3.93" height="6.11" fill="#e8e8e8" fill-opacity="1"/>
<path d="M599.49,830.30V824.19H603.41V830.30" fill="none" stroke="#8a8a8a" stroke-width="0.9"/>
<rect x="603.41" y="821.96" width="3.93" height="8.34" fill="#e8e8e8" fill-opacity="1"/>
<path d="M603.41,830.30V821.96H607.34V830.30" fill="none" stroke="#8a8a8a" stroke-width="0.9"/>
<rect x="607.34" y="821.64" width="3.93" height="8.66" fill="#e8e8e8" fill-opacity="1"/>
<path d="M607.34,830.30V821.64H611.27V830.30" fill="none" stroke="#8a8a8a" stroke-width="0.9"/>
<rect x="611.27" y="820.91" width="3.93" height="9.39" fill="#e8e8e8" fill-opacity="1"/>
<path d="M611.27,830.30V820.91H615.20V830.30" fill="none" stroke="#8a8a8a" stroke-width="0.9"/>
<rect x="615.20" y="820.83" width="3.93" height="9.47" fill="#e8e8e8" fill-opacity="1"/>
<path d="M615.20,830.30V820.83H619.12V830.30" fill="none" stroke="#8a8a8a" stroke-width="0.9"/>
<rect x="619.12" y="820.91" width="3.93" height="9.39" fill="#e8e8e8" fill-opacity="1"/>
<path d="M619.12,830.30V820.91H623.05V830.30" fill="none" stroke="#8a8a8a" stroke-width="0.9"/>
<rect x="623.05" y="820.43" width="3.93" height="9.87" fill="#e8e8e8" fill-opacity="1"/>
<path d="M623.05,830.30V820.43H626.98V830.30" fill="none" stroke="#8a8a8a" stroke-width="0.9"/>
<rect x="626.98" y="820.14" width="3.93" height="10.16" fill="#e8e8e8" fill-opacity="1"/>
<path d="M626.98,830.30V820.14H630.90V830.30" fill="none" stroke="#8a8a8a" stroke-width="0.9"/>
<rect x="630.90" y="819.80" width="3.93" height="10.50" fill="#e8e8e8" fill-opacity="1"/>
<path d="M630.90,830.30V819.80H634.83V830.30" fill="none" stroke="#8a8a8a" stroke-width="0.9"/>
<rect x="634.83" y="820.00" width="3.93" height="10.30" fill="#e8e8e8" fill-opacity="1"/>
<path d="M634.83,830.30V820.00H638.76V830.30" fill="none" stroke="#8a8a8a" stroke-width="0.9"/>
<rect x="638.76" y="819.30" width="3.93" height="11.00" fill="#e8e8e8" fill-opacity="1"/>
<path d="M638.76,830.30V819.30H642.69V830.30" fill="none" stroke="#8a8a8a" stroke-width="0.9"/>
<rect x="642.69" y="819.46" width="3.93" height="10.84" fill="#e8e8e8" fill-opacity="1"/>
<path d="M642.69,830.30V819.46H646.61V830.30" fill="none" stroke="#8a8a8a" stroke-width="0.9"/>
<rect x="646.61" y="819.20" width="3.93" height="11.10" fill="#e8e8e8" fill-opacity="1"/>
<path d="M646.61,830.30V819.20H650.54V830.30" fill="none" stroke="#8a8a8a" stroke-width="0.9"/>
<rect x="650.54" y="817.69" width="3.93" height="12.61" fill="#e8e8e8" fill-opacity="1"/>
<path d="M650.54,830.30V817.69H654.47V830.30" fill="none" stroke="#8a8a8a" stroke-width="0.9"/>
<rect x="654.47" y="816.90" width="3.93" height="13.40" fill="#e8e8e8" fill-opacity="1"/>
<path d="M654.47,830.30V816.90H658.40V830.30" fill="none" stroke="#8a8a8a" stroke-width="0.9"/>
<rect x="658.40" y="814.28" width="3.93" height="16.02" fill="#e8e8e8" fill-opacity="1"/>
<path d="M658.40,830.30V814.28H662.32V830.30" fill="none" stroke="#8a8a8a" stroke-width="0.9"/>
<rect x="662.32" y="812.65" width="3.93" height="17.65" fill="#e8e8e8" fill-opacity="1"/>
<path d="M662.32,830.30V812.65H666.25V830.30" fill="none" stroke="#8a8a8a" stroke-width="0.9"/>
<rect x="666.25" y="818.69" width="3.93" height="11.61" fill="#e8e8e8" fill-opacity="1"/>
<path d="M666.25,830.30V818.69H670.18V830.30" fill="none" stroke="#8a8a8a" stroke-width="0.9"/>
<rect x="670.18" y="827.70" width="3.93" height="2.60" fill="#e8e8e8" fill-opacity="1"/>
<path d="M670.18,830.30V827.70H674.11V830.30" fill="none" stroke="#8a8a8a" stroke-width="0.9"/>
<rect x="674.11" y="830.24" width="3.93" height="0.06" fill="#e8e8e8" fill-opacity="1"/>
<path d="M674.11,830.30V830.24H678.03V830.30" fill="none" stroke="#8a8a8a" stroke-width="0.9"/>
<rect x="678.03" y="830.18" width="2.97" height="0.12" fill="#e8e8e8" fill-opacity="1"/>
<path d="M678.03,830.30V830.18H681.00V830.30" fill="none" stroke="#8a8a8a" stroke-width="0.9"/>
<rect x="599.49" y="825.06" width="3.93" height="5.24" fill="#cedeb6" fill-opacity="0.55"/>
<path d="M599.49,830.30V825.06H603.41V830.30" fill="none" stroke="#5b8a52" stroke-width="0.8"/>
<rect x="603.41" y="767.43" width="3.93" height="62.87" fill="#cedeb6" fill-opacity="0.55"/>
<path d="M603.41,830.30V767.43H607.34V830.30" fill="none" stroke="#5b8a52" stroke-width="0.8"/>
<rect x="607.34" y="813.17" width="3.93" height="17.13" fill="#cedeb6" fill-opacity="0.55"/>
<path d="M607.34,830.30V813.17H611.27V830.30" fill="none" stroke="#5b8a52" stroke-width="0.8"/>
<rect x="611.27" y="819.42" width="3.93" height="10.88" fill="#cedeb6" fill-opacity="0.55"/>
<path d="M611.27,830.30V819.42H615.20V830.30" fill="none" stroke="#5b8a52" stroke-width="0.8"/>
<rect x="615.20" y="828.08" width="3.93" height="2.22" fill="#cedeb6" fill-opacity="0.55"/>
<path d="M615.20,830.30V828.08H619.12V830.30" fill="none" stroke="#5b8a52" stroke-width="0.8"/>
<rect x="626.98" y="807.53" width="3.93" height="22.77" fill="#cedeb6" fill-opacity="0.55"/>
<path d="M626.98,830.30V807.53H630.90V830.30" fill="none" stroke="#5b8a52" stroke-width="0.8"/>
<rect x="630.90" y="807.53" width="3.93" height="22.77" fill="#cedeb6" fill-opacity="0.55"/>
<path d="M630.90,830.30V807.53H634.83V830.30" fill="none" stroke="#5b8a52" stroke-width="0.8"/>
<rect x="634.83" y="816.60" width="3.93" height="13.70" fill="#cedeb6" fill-opacity="0.55"/>
<path d="M634.83,830.30V816.60H638.76V830.30" fill="none" stroke="#5b8a52" stroke-width="0.8"/>
<rect x="638.76" y="813.37" width="3.93" height="16.93" fill="#cedeb6" fill-opacity="0.55"/>
<path d="M638.76,830.30V813.37H642.69V830.30" fill="none" stroke="#5b8a52" stroke-width="0.8"/>
<rect x="642.69" y="825.46" width="3.93" height="4.84" fill="#cedeb6" fill-opacity="0.55"/>
<path d="M642.69,830.30V825.46H646.61V830.30" fill="none" stroke="#5b8a52" stroke-width="0.8"/>
<rect x="650.54" y="813.37" width="3.93" height="16.93" fill="#cedeb6" fill-opacity="0.55"/>
<path d="M650.54,830.30V813.37H654.47V830.30" fill="none" stroke="#5b8a52" stroke-width="0.8"/>
<line x1="639.40" y1="749.7" x2="639.40" y2="830.3" stroke="#000" stroke-width="1.5" stroke-dasharray="1.25 1.12"/>
<path d="M576.4000000000001,830.8V749.7H681.0000000000001" fill="none" stroke="#666" stroke-width="1"/>
<line x1="681.0000000000001" y1="749.2" x2="681.0000000000001" y2="830.8" stroke="#8c8c8c" stroke-width="1"/>
<line x1="575.9000000000001" y1="830.3" x2="681.5000000000001" y2="830.3" stroke="#8a8a8a" stroke-width="1"/>
<line x1="579.85" y1="830.3" x2="678.03" y2="830.3" stroke="#5a8752" stroke-width="1"/>
</g>
<text x="628.70" y="732.40" font-size="12.2" text-anchor="middle" fill="#222" >human satellite 5</text>
<text x="628.70" y="746.50" font-size="12.2" text-anchor="middle" fill="#222" >0.2Mb</text>
<text x="570.60" y="834.90" font-size="13" text-anchor="end" fill="#222" >0</text>
<text x="570.60" y="794.60" font-size="13" text-anchor="end" fill="#222" >20</text>
<text x="570.60" y="754.30" font-size="13" text-anchor="end" fill="#222" >40</text>
<text x="598.34" y="847.60" font-size="13" text-anchor="middle" fill="#222" >-2</text>
<text x="639.40" y="847.60" font-size="13" text-anchor="middle" fill="#222" >0</text>
<text x="680.46" y="847.60" font-size="13" text-anchor="middle" fill="#222" >2</text>
<text x="628.70" y="865.60" font-size="15" text-anchor="middle" fill="#222" >RT</text>
<text x="18.90" y="400.60" font-size="16.5" text-anchor="start" font-weight="bold" fill="#000" >c</text>
<path d="M460.5,626.3V407.5H673.4V626.3" fill="none" stroke="#6e6e6e" stroke-width="1"/>
<line x1="460" y1="625.8" x2="673.9" y2="625.8" stroke="#a8a8a8" stroke-width="1"/>
<text x="513.80" y="422.80" font-size="12" text-anchor="end" font-weight="bold" fill="#000" >ct</text>
<text x="535.60" y="422.80" font-size="12.3" text-anchor="start" fill="#000" >non-satellite sequence</text>
<text x="513.80" y="440.65" font-size="12" text-anchor="end" font-weight="bold" fill="#000" >hor</text>
<text x="535.60" y="440.65" font-size="12.3" text-anchor="start" fill="#000" ><tspan font-family="Liberation Serif" font-style="italic" style="font-size:112%;stroke:none" fill="#333">&#945;</tspan>-satellite HOR</text>
<text x="513.80" y="458.50" font-size="12" text-anchor="end" font-weight="bold" fill="#000" >dhor</text>
<text x="535.60" y="458.50" font-size="12.3" text-anchor="start" fill="#000" >diverged HOR</text>
<text x="513.80" y="476.35" font-size="12" text-anchor="end" font-weight="bold" fill="#000" >mon</text>
<text x="535.60" y="476.35" font-size="12.3" text-anchor="start" fill="#000" ><tspan font-family="Liberation Serif" font-style="italic" style="font-size:112%;stroke:none" fill="#333">&#945;</tspan>-satellite monomer</text>
<text x="513.80" y="494.20" font-size="12" text-anchor="end" font-weight="bold" fill="#000" >bsat</text>
<text x="535.60" y="494.20" font-size="12.3" text-anchor="start" fill="#000" ><tspan font-family="Liberation Serif" font-style="italic" style="font-size:105%;stroke:none" fill="#555">&#946;</tspan>-satellite</text>
<text x="513.80" y="512.05" font-size="12" text-anchor="end" font-weight="bold" fill="#000" >gsat</text>
<text x="535.60" y="512.05" font-size="12.3" text-anchor="start" fill="#000" ><tspan font-family="Liberation Serif" font-style="italic" style="font-size:105%;stroke:none" fill="#555">&#947;</tspan>-satellite</text>
<text x="513.80" y="529.90" font-size="12" text-anchor="end" font-weight="bold" fill="#000" >censat</text>
<text x="535.60" y="529.90" font-size="12.3" text-anchor="start" fill="#000" >pericentric repeats</text>
<text x="513.80" y="547.75" font-size="12" text-anchor="end" font-weight="bold" fill="#000" >hsat1</text>
<text x="535.60" y="547.75" font-size="12.3" text-anchor="start" fill="#000" >human satellite 1</text>
<text x="513.80" y="565.60" font-size="12" text-anchor="end" font-weight="bold" fill="#000" >hsat2</text>
<text x="535.60" y="565.60" font-size="12.3" text-anchor="start" fill="#000" >human satellite 2</text>
<text x="513.80" y="583.45" font-size="12" text-anchor="end" font-weight="bold" fill="#000" >hsat3</text>
<text x="535.60" y="583.45" font-size="12.3" text-anchor="start" fill="#000" >human satellite 3</text>
<text x="513.80" y="601.30" font-size="12" text-anchor="end" font-weight="bold" fill="#000" >hsat4</text>
<text x="535.60" y="601.30" font-size="12.3" text-anchor="start" fill="#000" >human satellite 4</text>
<text x="513.80" y="619.15" font-size="12" text-anchor="end" font-weight="bold" fill="#000" >hsat5</text>
<text x="535.60" y="619.15" font-size="12.3" text-anchor="start" fill="#000" >human satellite 5</text>
</svg></body></html>
